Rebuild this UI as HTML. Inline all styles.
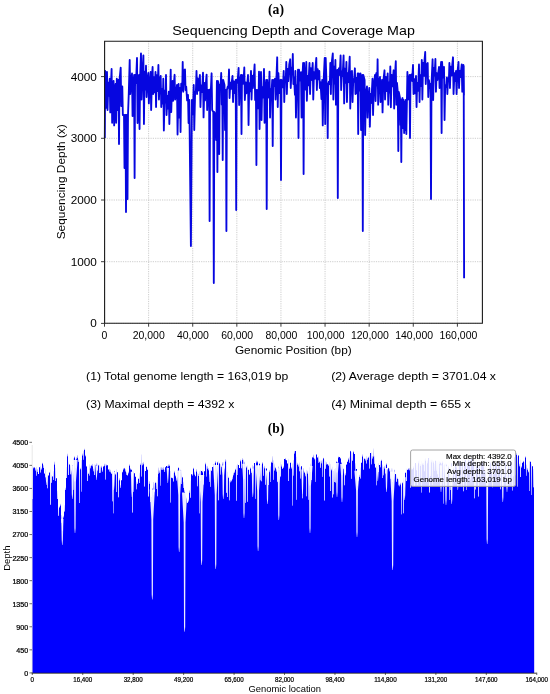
<!DOCTYPE html>
<html><head><meta charset="utf-8"><title>Sequencing depth</title>
<style>html,body{margin:0;padding:0;background:#fff;}svg{display:block;font-family:"Liberation Sans",sans-serif;will-change:transform;}</style>
</head><body>
<svg width="550" height="694" viewBox="0 0 550 694">
<defs><linearGradient id="fg" x1="0" y1="0" x2="0" y2="1"><stop offset="0" stop-color="#0000ff" stop-opacity="0.25"/><stop offset="1" stop-color="#0000ff" stop-opacity="0.9"/></linearGradient></defs>
<rect width="550" height="694" fill="#fff"/>
<text x="276.00" y="13.60" font-family="Liberation Serif" font-size="14" font-weight="bold" text-anchor="middle" fill="#000" textLength="16.00" lengthAdjust="spacingAndGlyphs" >(a)</text>
<text x="293.60" y="35.30" font-family="Liberation Sans" font-size="12.9" font-weight="normal" text-anchor="middle" fill="#000" textLength="242.50" lengthAdjust="spacingAndGlyphs" >Sequencing Depth and Coverage Map</text>
<line x1="104.50" y1="41.0" x2="104.50" y2="323.2" stroke="#c0c0c0" stroke-width="0.8" stroke-dasharray="1.2,1.1"/>
<line x1="148.61" y1="41.0" x2="148.61" y2="323.2" stroke="#c0c0c0" stroke-width="0.8" stroke-dasharray="1.2,1.1"/>
<line x1="192.72" y1="41.0" x2="192.72" y2="323.2" stroke="#c0c0c0" stroke-width="0.8" stroke-dasharray="1.2,1.1"/>
<line x1="236.84" y1="41.0" x2="236.84" y2="323.2" stroke="#c0c0c0" stroke-width="0.8" stroke-dasharray="1.2,1.1"/>
<line x1="280.95" y1="41.0" x2="280.95" y2="323.2" stroke="#c0c0c0" stroke-width="0.8" stroke-dasharray="1.2,1.1"/>
<line x1="325.06" y1="41.0" x2="325.06" y2="323.2" stroke="#c0c0c0" stroke-width="0.8" stroke-dasharray="1.2,1.1"/>
<line x1="369.17" y1="41.0" x2="369.17" y2="323.2" stroke="#c0c0c0" stroke-width="0.8" stroke-dasharray="1.2,1.1"/>
<line x1="413.28" y1="41.0" x2="413.28" y2="323.2" stroke="#c0c0c0" stroke-width="0.8" stroke-dasharray="1.2,1.1"/>
<line x1="457.40" y1="41.0" x2="457.40" y2="323.2" stroke="#c0c0c0" stroke-width="0.8" stroke-dasharray="1.2,1.1"/>
<line x1="104.5" y1="323.40" x2="482.3" y2="323.40" stroke="#c0c0c0" stroke-width="0.8" stroke-dasharray="1.2,1.1"/>
<line x1="104.5" y1="261.70" x2="482.3" y2="261.70" stroke="#c0c0c0" stroke-width="0.8" stroke-dasharray="1.2,1.1"/>
<line x1="104.5" y1="200.00" x2="482.3" y2="200.00" stroke="#c0c0c0" stroke-width="0.8" stroke-dasharray="1.2,1.1"/>
<line x1="104.5" y1="138.30" x2="482.3" y2="138.30" stroke="#c0c0c0" stroke-width="0.8" stroke-dasharray="1.2,1.1"/>
<line x1="104.5" y1="76.60" x2="482.3" y2="76.60" stroke="#c0c0c0" stroke-width="0.8" stroke-dasharray="1.2,1.1"/>
<polyline points="104.80,138.00 105.20,71.00 105.75,108.00 107.00,72.00 107.55,110.00 108.31,82.75 109.08,95.93 109.70,78.70 110.25,112.40 110.87,86.60 111.60,69.00 112.15,122.80 113.00,84.11 113.60,81.00 114.15,125.40 114.82,91.71 115.60,84.00 116.15,122.80 116.80,78.70 117.35,110.00 118.50,80.00 119.00,144.00 119.50,80.00 120.70,67.70 121.25,106.00 122.30,86.50 122.85,115.00 124.00,115.00 124.50,168.00 125.00,115.00 125.50,115.00 126.00,212.00 126.50,115.00 127.00,115.00 127.50,199.00 128.00,115.00 128.79,92.96 129.70,60.00 130.25,94.00 130.99,81.57 132.00,73.50 132.55,116.00 133.20,87.72 134.10,75.00 134.60,178.00 135.10,75.00 136.01,82.96 137.00,58.00 137.55,123.00 138.37,85.29 139.00,75.00 139.55,129.00 140.17,76.49 141.00,53.40 141.55,99.50 142.33,74.28 143.40,55.40 143.95,124.00 144.56,71.80 145.44,89.64 146.00,65.70 146.55,97.00 147.41,79.98 148.30,73.00 148.85,103.40 149.73,83.83 150.60,72.00 151.15,110.00 151.99,76.42 152.60,67.00 153.15,94.00 154.03,77.23 154.53,92.40 155.50,72.00 156.05,107.00 156.72,75.26 157.53,91.01 158.40,65.00 158.95,99.50 159.64,81.19 160.70,76.00 161.25,107.00 161.97,88.82 162.78,103.66 163.30,78.70 163.85,130.60 164.72,90.59 165.48,102.49 166.00,75.00 166.55,115.00 167.45,96.02 167.95,108.46 168.80,91.70 169.35,124.00 170.24,90.90 170.70,69.60 171.25,112.00 172.02,87.53 172.60,81.00 173.15,100.80 173.81,84.52 174.60,74.80 175.15,99.50 175.92,93.97 177.00,85.00 177.55,134.50 178.60,84.00 179.15,117.60 180.00,88.00 180.55,132.00 181.17,83.66 182.20,90.22 182.70,61.90 183.25,91.70 184.09,70.42 185.00,69.50 185.55,90.00 186.20,86.55 187.13,100.34 188.00,95.00 188.55,123.00 189.16,107.30 189.30,100.00 190.90,246.00 191.90,100.00 192.06,103.69 192.90,114.23 193.70,85.00 194.25,130.00 195.14,91.38 195.90,91.40 196.50,71.00 197.05,94.00 197.67,78.54 198.41,90.47 199.27,80.36 199.90,75.00 200.45,107.00 201.10,85.33 202.06,92.09 203.00,72.70 203.55,117.40 204.44,82.83 205.01,100.35 205.81,84.11 206.60,74.60 207.15,110.00 207.93,90.21 209.10,90.00 209.60,221.00 210.10,90.00 210.94,88.09 211.60,73.30 212.15,110.00 213.30,112.00 213.80,283.00 214.30,112.00 215.60,115.00 216.15,140.00 216.90,81.00 217.40,172.00 217.90,81.00 218.70,85.00 219.20,154.00 219.70,85.00 220.50,87.71 221.20,73.00 221.75,104.50 222.20,80.00 222.70,160.00 223.20,80.00 224.50,85.00 225.05,130.00 225.90,90.00 226.40,231.00 226.90,90.00 227.77,86.52 228.39,87.87 229.00,69.50 229.55,98.00 230.31,82.79 230.90,89.18 231.82,81.43 232.50,76.00 233.05,102.00 233.83,81.30 234.42,93.18 235.70,80.00 236.20,210.00 236.70,80.00 237.49,82.95 238.60,68.00 239.15,105.00 239.86,81.61 241.00,75.00 241.50,134.00 242.00,75.00 242.87,81.26 243.42,83.70 244.30,67.50 244.85,100.00 245.74,82.46 246.34,93.29 247.05,86.81 248.00,75.00 248.55,125.00 249.24,83.07 250.08,91.41 251.00,71.00 251.55,99.50 252.26,75.64 252.91,88.19 253.87,75.87 254.60,64.50 255.15,100.00 255.90,90.00 256.40,165.00 256.90,90.00 257.62,90.12 258.37,108.33 259.00,71.60 259.55,129.00 260.28,81.96 261.00,72.00 261.55,120.00 262.18,87.09 263.00,97.52 264.00,69.00 264.55,122.80 265.28,91.23 266.20,80.00 266.70,209.00 267.20,80.00 267.90,91.71 268.80,97.59 269.50,71.60 270.05,117.60 270.79,89.46 271.44,94.61 272.20,80.00 272.70,146.00 273.20,80.00 273.91,86.09 275.00,78.70 275.55,99.50 276.40,79.38 277.20,57.30 277.75,107.00 278.43,73.11 279.29,93.08 280.50,80.00 281.00,180.00 281.50,80.00 282.25,85.38 282.99,87.37 283.70,71.00 284.25,102.00 284.93,77.44 285.73,80.92 286.30,61.90 286.85,94.00 287.57,68.93 288.25,81.15 289.23,64.52 290.20,59.30 290.75,88.00 291.65,67.51 292.39,71.73 292.80,54.00 293.35,84.00 294.02,77.12 294.95,94.82 295.40,71.00 295.95,117.60 296.71,85.31 297.40,94.90 298.00,69.60 298.50,138.00 299.00,69.60 299.67,80.60 301.00,72.20 301.55,117.60 302.24,81.21 303.10,63.00 303.60,174.00 304.10,63.00 304.76,77.52 305.71,89.65 306.30,61.90 306.85,100.80 307.72,75.94 308.37,85.44 309.50,63.00 310.05,94.00 310.87,68.09 311.49,80.02 312.70,63.00 313.25,99.50 314.01,72.21 314.88,78.94 315.45,69.11 316.30,58.00 316.85,90.00 317.71,69.07 318.43,79.27 319.30,71.00 319.85,88.00 320.51,82.11 321.45,99.00 322.20,80.00 322.75,125.40 323.59,81.06 324.70,58.00 325.20,124.00 325.70,58.00 326.59,86.80 327.20,84.00 327.70,138.00 328.20,84.00 328.85,81.69 329.86,84.21 330.30,63.00 330.85,94.00 331.53,64.32 332.80,53.40 333.35,99.50 334.11,66.56 334.84,83.61 335.40,60.00 335.95,104.70 336.55,77.56 337.30,70.00 337.80,198.00 338.30,70.00 338.99,68.25 339.72,75.02 340.60,55.40 341.15,90.00 342.01,71.31 342.65,76.03 343.60,55.40 344.15,103.40 344.84,68.60 345.69,82.90 346.40,62.00 346.95,102.00 347.66,73.16 348.40,82.27 349.70,56.70 350.25,108.50 351.02,72.03 352.00,71.00 352.55,102.00 353.26,79.21 353.95,81.90 354.90,68.30 355.45,94.00 356.23,77.83 356.91,93.26 357.70,73.50 358.20,134.00 358.70,73.50 359.54,90.55 360.50,73.50 361.05,130.00 362.30,75.00 362.80,231.00 363.30,75.00 364.60,80.00 365.15,135.00 365.86,94.37 367.00,86.50 367.55,117.60 368.36,97.05 369.30,88.00 369.85,126.70 370.66,93.85 371.27,103.05 372.50,78.70 373.05,115.00 373.86,85.56 375.00,75.00 375.55,101.00 376.28,73.14 377.16,85.60 377.60,59.30 378.15,104.70 378.86,82.08 380.00,77.00 380.55,102.00 381.39,90.11 382.00,80.00 382.55,112.40 383.29,81.58 384.50,70.30 385.05,99.50 385.89,77.03 386.67,91.11 387.70,73.50 388.25,104.70 389.05,82.50 389.77,92.51 390.30,66.40 390.85,107.30 391.63,74.94 392.24,86.52 393.60,70.30 394.15,108.50 394.76,79.12 395.80,61.20 396.35,104.70 396.98,82.88 397.80,92.00 398.30,151.00 398.80,92.00 400.00,98.00 400.55,125.00 400.80,100.00 401.30,162.00 401.80,100.00 402.50,98.00 403.05,128.00 403.60,100.00 404.15,133.00 404.70,102.00 405.25,130.00 405.80,100.00 406.35,134.00 407.40,72.00 407.95,99.50 408.60,82.61 409.50,75.00 410.00,138.00 410.50,75.00 411.40,74.55 412.15,80.99 413.00,65.00 413.55,94.00 414.40,79.28 415.07,93.41 416.00,76.00 416.55,107.00 417.16,82.84 418.05,90.89 419.00,64.50 419.55,102.00 420.18,75.05 421.18,86.04 421.80,60.00 422.35,99.50 423.05,63.00 423.95,75.85 424.50,60.43 425.20,52.00 425.75,84.00 426.53,64.74 427.70,63.00 428.25,97.00 428.97,80.25 429.72,88.07 430.50,84.00 431.00,199.00 431.50,84.00 432.60,59.30 433.15,100.00 433.88,67.95 434.65,75.48 435.40,59.00 435.95,91.70 436.67,73.09 437.35,80.14 438.28,72.84 439.00,67.00 439.55,88.00 440.31,74.53 441.10,62.00 441.60,133.00 442.10,62.00 442.94,77.70 444.00,67.00 444.55,120.00 445.19,85.34 446.12,87.10 446.80,77.40 447.35,94.00 448.11,78.09 448.92,79.07 449.40,63.00 449.95,88.00 450.63,66.69 451.48,75.58 452.12,66.37 453.00,57.30 453.55,94.00 454.44,73.17 455.11,80.99 456.00,71.00 456.55,94.00 457.41,72.54 458.50,62.00 459.05,88.00 459.73,70.86 460.41,77.10 461.70,64.50 462.25,91.70 463.40,65.00 463.95,95.00 463.70,66.00 464.10,278.30" fill="none" stroke="#0606e0" stroke-width="1.85" stroke-linejoin="round"/>
<path d="M104.6,41.3 H482.4 V323.3 H104.6 Z" fill="none" stroke="#1a1a1a" stroke-width="1.1"/>
<line x1="104.50" y1="323.2" x2="104.50" y2="326.7" stroke="#262626" stroke-width="0.9"/>
<text x="104.50" y="338.70" font-family="Liberation Sans" font-size="10.2" font-weight="normal" text-anchor="middle" fill="#000" textLength="5.82" lengthAdjust="spacingAndGlyphs" >0</text>
<line x1="148.61" y1="323.2" x2="148.61" y2="326.7" stroke="#262626" stroke-width="0.9"/>
<text x="148.73" y="338.70" font-family="Liberation Sans" font-size="10.2" font-weight="normal" text-anchor="middle" fill="#000" textLength="32.02" lengthAdjust="spacingAndGlyphs" >20,000</text>
<line x1="192.72" y1="323.2" x2="192.72" y2="326.7" stroke="#262626" stroke-width="0.9"/>
<text x="192.96" y="338.70" font-family="Liberation Sans" font-size="10.2" font-weight="normal" text-anchor="middle" fill="#000" textLength="32.02" lengthAdjust="spacingAndGlyphs" >40,000</text>
<line x1="236.84" y1="323.2" x2="236.84" y2="326.7" stroke="#262626" stroke-width="0.9"/>
<text x="237.20" y="338.70" font-family="Liberation Sans" font-size="10.2" font-weight="normal" text-anchor="middle" fill="#000" textLength="32.02" lengthAdjust="spacingAndGlyphs" >60,000</text>
<line x1="280.95" y1="323.2" x2="280.95" y2="326.7" stroke="#262626" stroke-width="0.9"/>
<text x="281.43" y="338.70" font-family="Liberation Sans" font-size="10.2" font-weight="normal" text-anchor="middle" fill="#000" textLength="32.02" lengthAdjust="spacingAndGlyphs" >80,000</text>
<line x1="325.06" y1="323.2" x2="325.06" y2="326.7" stroke="#262626" stroke-width="0.9"/>
<text x="325.66" y="338.70" font-family="Liberation Sans" font-size="10.2" font-weight="normal" text-anchor="middle" fill="#000" textLength="37.84" lengthAdjust="spacingAndGlyphs" >100,000</text>
<line x1="369.17" y1="323.2" x2="369.17" y2="326.7" stroke="#262626" stroke-width="0.9"/>
<text x="369.89" y="338.70" font-family="Liberation Sans" font-size="10.2" font-weight="normal" text-anchor="middle" fill="#000" textLength="37.84" lengthAdjust="spacingAndGlyphs" >120,000</text>
<line x1="413.28" y1="323.2" x2="413.28" y2="326.7" stroke="#262626" stroke-width="0.9"/>
<text x="414.12" y="338.70" font-family="Liberation Sans" font-size="10.2" font-weight="normal" text-anchor="middle" fill="#000" textLength="37.84" lengthAdjust="spacingAndGlyphs" >140,000</text>
<line x1="457.40" y1="323.2" x2="457.40" y2="326.7" stroke="#262626" stroke-width="0.9"/>
<text x="458.36" y="338.70" font-family="Liberation Sans" font-size="10.2" font-weight="normal" text-anchor="middle" fill="#000" textLength="37.84" lengthAdjust="spacingAndGlyphs" >160,000</text>
<line x1="101.0" y1="323.40" x2="104.5" y2="323.40" stroke="#262626" stroke-width="0.9"/>
<text x="96.90" y="327.40" font-family="Liberation Sans" font-size="10.6" font-weight="normal" text-anchor="end" fill="#000" textLength="6.55" lengthAdjust="spacingAndGlyphs" >0</text>
<line x1="101.0" y1="261.70" x2="104.5" y2="261.70" stroke="#262626" stroke-width="0.9"/>
<text x="96.90" y="265.70" font-family="Liberation Sans" font-size="10.6" font-weight="normal" text-anchor="end" fill="#000" textLength="26.21" lengthAdjust="spacingAndGlyphs" >1000</text>
<line x1="101.0" y1="200.00" x2="104.5" y2="200.00" stroke="#262626" stroke-width="0.9"/>
<text x="96.90" y="204.00" font-family="Liberation Sans" font-size="10.6" font-weight="normal" text-anchor="end" fill="#000" textLength="26.21" lengthAdjust="spacingAndGlyphs" >2000</text>
<line x1="101.0" y1="138.30" x2="104.5" y2="138.30" stroke="#262626" stroke-width="0.9"/>
<text x="96.90" y="142.30" font-family="Liberation Sans" font-size="10.6" font-weight="normal" text-anchor="end" fill="#000" textLength="26.21" lengthAdjust="spacingAndGlyphs" >3000</text>
<line x1="101.0" y1="76.60" x2="104.5" y2="76.60" stroke="#262626" stroke-width="0.9"/>
<text x="96.90" y="80.60" font-family="Liberation Sans" font-size="10.6" font-weight="normal" text-anchor="end" fill="#000" textLength="26.21" lengthAdjust="spacingAndGlyphs" >4000</text>
<text x="293.30" y="353.60" font-family="Liberation Sans" font-size="10.6" font-weight="normal" text-anchor="middle" fill="#000" textLength="116.70" lengthAdjust="spacingAndGlyphs" >Genomic Position (bp)</text>
<g transform="translate(64.6,181.8) rotate(-90)"><text x="0.00" y="0.00" font-family="Liberation Sans" font-size="10.6" font-weight="normal" text-anchor="middle" fill="#000" textLength="115.10" lengthAdjust="spacingAndGlyphs" >Sequencing Depth (x)</text></g>
<text x="86.10" y="379.60" font-family="Liberation Sans" font-size="10.6" font-weight="normal" text-anchor="start" fill="#000" textLength="202.20" lengthAdjust="spacingAndGlyphs" >(1) Total genome length = 163,019 bp</text>
<text x="331.20" y="379.60" font-family="Liberation Sans" font-size="10.6" font-weight="normal" text-anchor="start" fill="#000" textLength="164.80" lengthAdjust="spacingAndGlyphs" >(2) Average depth = 3701.04 x</text>
<text x="86.10" y="407.80" font-family="Liberation Sans" font-size="10.6" font-weight="normal" text-anchor="start" fill="#000" textLength="148.30" lengthAdjust="spacingAndGlyphs" >(3) Maximal depth = 4392 x</text>
<text x="331.20" y="407.80" font-family="Liberation Sans" font-size="10.6" font-weight="normal" text-anchor="start" fill="#000" textLength="139.60" lengthAdjust="spacingAndGlyphs" >(4) Minimal depth = 655 x</text>
<text x="276.00" y="433.00" font-family="Liberation Serif" font-size="14" font-weight="bold" text-anchor="middle" fill="#000" textLength="16.40" lengthAdjust="spacingAndGlyphs" >(b)</text>
<polygon points="32.30,673.00 32.30,499.00 33.00,499.00 33.00,468.32 34.00,468.32 34.00,467.61 35.00,467.61 35.00,470.46 36.00,470.46 36.00,475.85 37.00,475.85 37.00,471.94 38.00,471.94 38.00,474.05 39.00,474.05 39.00,467.28 40.00,467.28 40.00,472.49 41.00,472.49 41.00,469.62 42.00,469.62 42.00,463.87 43.00,463.87 43.00,467.93 44.00,467.93 44.00,473.83 45.00,473.83 45.00,477.33 46.00,477.33 46.00,476.94 47.00,476.94 47.00,488.28 48.00,488.28 48.00,475.58 49.00,475.58 49.00,472.72 50.00,472.72 50.00,504.84 51.00,504.84 51.00,482.63 52.00,482.63 52.00,476.49 53.00,476.49 53.00,480.12 54.00,480.12 54.00,464.40 55.00,464.40 55.00,481.08 56.00,481.08 56.00,478.28 57.00,478.28 57.00,499.12 58.00,499.12 58.00,515.70 59.00,515.70 59.00,507.57 60.00,507.57 60.00,505.44 61.00,505.44 61.00,522.75 62.00,522.75 62.00,531.09 63.00,531.09 63.00,517.46 64.00,517.46 64.00,511.40 65.00,511.40 65.00,490.00 66.00,490.00 66.00,478.06 67.00,478.06 67.00,456.16 68.00,456.16 68.00,474.99 69.00,474.99 69.00,464.47 70.00,464.47 70.00,474.25 71.00,474.25 71.00,470.21 72.00,470.21 72.00,465.26 73.00,465.26 73.00,489.77 74.00,489.77 74.00,457.60 75.00,457.60 75.00,468.12 76.00,468.12 76.00,459.37 77.00,459.37 77.00,457.67 78.00,457.67 78.00,461.97 79.00,461.97 79.00,503.00 80.00,503.00 80.00,469.37 81.00,469.37 81.00,491.42 82.00,491.42 82.00,455.55 83.00,455.55 83.00,459.83 84.00,459.83 84.00,449.97 85.00,449.97 85.00,456.21 86.00,456.21 86.00,466.39 87.00,466.39 87.00,481.11 88.00,481.11 88.00,473.90 89.00,473.90 89.00,475.53 90.00,475.53 90.00,468.28 91.00,468.28 91.00,465.64 92.00,465.64 92.00,466.30 93.00,466.30 93.00,471.29 94.00,471.29 94.00,475.06 95.00,475.06 95.00,466.05 96.00,466.05 96.00,466.15 97.00,466.15 97.00,470.60 98.00,470.60 98.00,465.55 99.00,465.55 99.00,473.01 100.00,473.01 100.00,472.79 101.00,472.79 101.00,467.52 102.00,467.52 102.00,471.85 103.00,471.85 103.00,466.43 104.00,466.43 104.00,465.72 105.00,465.72 105.00,479.40 106.00,479.40 106.00,465.48 107.00,465.48 107.00,465.31 108.00,465.31 108.00,469.42 109.00,469.42 109.00,471.40 110.00,471.40 110.00,472.28 111.00,472.28 111.00,473.97 112.00,473.97 112.00,501.19 113.00,501.19 113.00,513.32 114.00,513.32 114.00,471.72 115.00,471.72 115.00,474.42 116.00,474.42 116.00,492.09 117.00,492.09 117.00,472.19 118.00,472.19 118.00,497.16 119.00,497.16 119.00,480.21 120.00,480.21 120.00,487.72 121.00,487.72 121.00,480.29 122.00,480.29 122.00,472.17 123.00,472.17 123.00,469.59 124.00,469.59 124.00,468.59 125.00,468.59 125.00,471.62 126.00,471.62 126.00,475.11 127.00,475.11 127.00,475.47 128.00,475.47 128.00,473.17 129.00,473.17 129.00,465.74 130.00,465.74 130.00,469.58 131.00,469.58 131.00,469.82 132.00,469.82 132.00,512.39 133.00,512.39 133.00,491.83 134.00,491.83 134.00,473.36 135.00,473.36 135.00,476.71 136.00,476.71 136.00,489.22 137.00,489.22 137.00,484.11 138.00,484.11 138.00,478.84 139.00,478.84 139.00,482.97 140.00,482.97 140.00,464.89 141.00,464.89 141.00,476.59 142.00,476.59 142.00,465.34 143.00,465.34 143.00,464.33 144.00,464.33 144.00,486.45 145.00,486.45 145.00,470.89 146.00,470.89 146.00,466.95 147.00,466.95 147.00,469.94 148.00,469.94 148.00,496.57 149.00,496.57 149.00,483.64 150.00,483.64 150.00,501.88 151.00,501.88 151.00,496.89 152.00,496.89 152.00,489.57 153.00,489.57 153.00,494.88 154.00,494.88 154.00,491.85 155.00,491.85 155.00,483.09 156.00,483.09 156.00,488.93 157.00,488.93 157.00,496.33 158.00,496.33 158.00,473.87 159.00,473.87 159.00,472.76 160.00,472.76 160.00,485.45 161.00,485.45 161.00,469.69 162.00,469.69 162.00,470.05 163.00,470.05 163.00,469.61 164.00,469.61 164.00,471.89 165.00,471.89 165.00,467.23 166.00,467.23 166.00,466.06 167.00,466.06 167.00,467.45 168.00,467.45 168.00,466.17 169.00,466.17 169.00,466.07 170.00,466.07 170.00,502.62 171.00,502.62 171.00,477.80 172.00,477.80 172.00,478.33 173.00,478.33 173.00,481.50 174.00,481.50 174.00,472.41 175.00,472.41 175.00,476.26 176.00,476.26 176.00,480.39 177.00,480.39 177.00,471.81 178.00,471.81 178.00,467.80 179.00,467.80 179.00,486.42 180.00,486.42 180.00,471.20 181.00,471.20 181.00,483.92 182.00,483.92 182.00,477.62 183.00,477.62 183.00,488.03 184.00,488.03 184.00,491.97 185.00,491.97 185.00,495.52 186.00,495.52 186.00,498.14 187.00,498.14 187.00,503.07 188.00,503.07 188.00,501.50 189.00,501.50 189.00,492.65 190.00,492.65 190.00,497.82 191.00,497.82 191.00,474.35 192.00,474.35 192.00,475.47 193.00,475.47 193.00,468.76 194.00,468.76 194.00,474.44 195.00,474.44 195.00,476.13 196.00,476.13 196.00,471.40 197.00,471.40 197.00,486.31 198.00,486.31 198.00,475.90 199.00,475.90 199.00,513.21 200.00,513.21 200.00,480.88 201.00,480.88 201.00,470.93 202.00,470.93 202.00,472.26 203.00,472.26 203.00,484.45 204.00,484.45 204.00,471.24 205.00,471.24 205.00,464.31 206.00,464.31 206.00,476.51 207.00,476.51 207.00,468.80 208.00,468.80 208.00,470.27 209.00,470.27 209.00,481.63 210.00,481.63 210.00,486.74 211.00,486.74 211.00,470.72 212.00,470.72 212.00,466.94 213.00,466.94 213.00,466.21 214.00,466.21 214.00,479.48 215.00,479.48 215.00,462.75 216.00,462.75 216.00,468.50 217.00,468.50 217.00,462.42 218.00,462.42 218.00,500.34 219.00,500.34 219.00,463.62 220.00,463.62 220.00,474.50 221.00,474.50 221.00,467.09 222.00,467.09 222.00,464.75 223.00,464.75 223.00,479.31 224.00,479.31 224.00,468.54 225.00,468.54 225.00,461.42 226.00,461.42 226.00,492.64 227.00,492.64 227.00,497.07 228.00,497.07 228.00,478.11 229.00,478.11 229.00,500.24 230.00,500.24 230.00,482.22 231.00,482.22 231.00,481.19 232.00,481.19 232.00,479.34 233.00,479.34 233.00,475.31 234.00,475.31 234.00,472.78 235.00,472.78 235.00,469.74 236.00,469.74 236.00,500.83 237.00,500.83 237.00,474.89 238.00,474.89 238.00,465.01 239.00,465.01 239.00,468.07 240.00,468.07 240.00,461.19 241.00,461.19 241.00,468.17 242.00,468.17 242.00,459.89 243.00,459.89 243.00,467.42 244.00,467.42 244.00,464.00 245.00,464.00 245.00,502.63 246.00,502.63 246.00,467.55 247.00,467.55 247.00,501.75 248.00,501.75 248.00,470.02 249.00,470.02 249.00,474.81 250.00,474.81 250.00,468.39 251.00,468.39 251.00,472.99 252.00,472.99 252.00,474.43 253.00,474.43 253.00,468.98 254.00,468.98 254.00,463.10 255.00,463.10 255.00,498.75 256.00,498.75 256.00,462.54 257.00,462.54 257.00,462.17 258.00,462.17 258.00,469.60 259.00,469.60 259.00,463.98 260.00,463.98 260.00,480.17 261.00,480.17 261.00,481.21 262.00,481.21 262.00,463.43 263.00,463.43 263.00,475.75 264.00,475.75 264.00,468.22 265.00,468.22 265.00,484.79 266.00,484.79 266.00,468.48 267.00,468.48 267.00,473.06 268.00,473.06 268.00,484.93 269.00,484.93 269.00,471.86 270.00,471.86 270.00,481.91 271.00,481.91 271.00,462.38 272.00,462.38 272.00,462.73 273.00,462.73 273.00,479.69 274.00,479.69 274.00,470.50 275.00,470.50 275.00,468.29 276.00,468.29 276.00,471.38 277.00,471.38 277.00,481.71 278.00,481.71 278.00,469.25 279.00,469.25 279.00,469.85 280.00,469.85 280.00,476.54 281.00,476.54 281.00,466.51 282.00,466.51 282.00,468.75 283.00,468.75 283.00,467.75 284.00,467.75 284.00,459.11 285.00,459.11 285.00,459.47 286.00,459.47 286.00,460.15 287.00,460.15 287.00,463.39 288.00,463.39 288.00,480.91 289.00,480.91 289.00,468.64 290.00,468.64 290.00,462.78 291.00,462.78 291.00,468.51 292.00,468.51 292.00,505.51 293.00,505.51 293.00,475.48 294.00,475.48 294.00,453.43 295.00,453.43 295.00,451.03 296.00,451.03 296.00,499.81 297.00,499.81 297.00,464.87 298.00,464.87 298.00,466.58 299.00,466.58 299.00,471.16 300.00,471.16 300.00,478.57 301.00,478.57 301.00,466.28 302.00,466.28 302.00,498.30 303.00,498.30 303.00,470.26 304.00,470.26 304.00,472.81 305.00,472.81 305.00,476.31 306.00,476.31 306.00,496.36 307.00,496.36 307.00,473.39 308.00,473.39 308.00,499.87 309.00,499.87 309.00,467.60 310.00,467.60 310.00,471.88 311.00,471.88 311.00,479.90 312.00,479.90 312.00,457.52 313.00,457.52 313.00,457.38 314.00,457.38 314.00,459.26 315.00,459.26 315.00,481.73 316.00,481.73 316.00,454.56 317.00,454.56 317.00,457.60 318.00,457.60 318.00,463.02 319.00,463.02 319.00,462.28 320.00,462.28 320.00,467.72 321.00,467.72 321.00,463.25 322.00,463.25 322.00,476.71 323.00,476.71 323.00,458.60 324.00,458.60 324.00,500.50 325.00,500.50 325.00,468.69 326.00,468.69 326.00,464.61 327.00,464.61 327.00,464.33 328.00,464.33 328.00,465.71 329.00,465.71 329.00,476.45 330.00,476.45 330.00,490.91 331.00,490.91 331.00,470.28 332.00,470.28 332.00,497.45 333.00,497.45 333.00,494.17 334.00,494.17 334.00,482.00 335.00,482.00 335.00,482.61 336.00,482.61 336.00,461.79 337.00,461.79 337.00,462.56 338.00,462.56 338.00,457.48 339.00,457.48 339.00,457.04 340.00,457.04 340.00,458.61 341.00,458.61 341.00,463.43 342.00,463.43 342.00,466.50 343.00,466.50 343.00,468.71 344.00,468.71 344.00,485.36 345.00,485.36 345.00,475.28 346.00,475.28 346.00,464.82 347.00,464.82 347.00,461.67 348.00,461.67 348.00,459.40 349.00,459.40 349.00,462.72 350.00,462.72 350.00,451.33 351.00,451.33 351.00,478.74 352.00,478.74 352.00,460.86 353.00,460.86 353.00,452.28 354.00,452.28 354.00,453.92 355.00,453.92 355.00,470.77 356.00,470.77 356.00,469.00 357.00,469.00 357.00,485.87 358.00,485.87 358.00,480.59 359.00,480.59 359.00,476.96 360.00,476.96 360.00,478.45 361.00,478.45 361.00,462.87 362.00,462.87 362.00,456.50 363.00,456.50 363.00,469.82 364.00,469.82 364.00,458.98 365.00,458.98 365.00,460.41 366.00,460.41 366.00,463.47 367.00,463.47 367.00,459.63 368.00,459.63 368.00,457.72 369.00,457.72 369.00,468.38 370.00,468.38 370.00,453.03 371.00,453.03 371.00,464.20 372.00,464.20 372.00,458.54 373.00,458.54 373.00,456.44 374.00,456.44 374.00,463.63 375.00,463.63 375.00,467.87 376.00,467.87 376.00,485.37 377.00,485.37 377.00,467.21 378.00,467.21 378.00,472.00 379.00,472.00 379.00,465.09 380.00,465.09 380.00,467.26 381.00,467.26 381.00,460.71 382.00,460.71 382.00,477.89 383.00,477.89 383.00,475.20 384.00,475.20 384.00,468.44 385.00,468.44 385.00,473.56 386.00,473.56 386.00,464.87 387.00,464.87 387.00,469.56 388.00,469.56 388.00,468.34 389.00,468.34 389.00,471.19 390.00,471.19 390.00,478.85 391.00,478.85 391.00,479.28 392.00,479.28 392.00,482.11 393.00,482.11 393.00,479.43 394.00,479.43 394.00,471.66 395.00,471.66 395.00,473.94 396.00,473.94 396.00,481.76 397.00,481.76 397.00,478.88 398.00,478.88 398.00,485.36 399.00,485.36 399.00,486.21 400.00,486.21 400.00,484.40 401.00,484.40 401.00,514.15 402.00,514.15 402.00,483.32 403.00,483.32 403.00,513.20 404.00,513.20 404.00,487.62 405.00,487.62 405.00,472.87 406.00,472.87 406.00,481.03 407.00,481.03 407.00,470.02 408.00,470.02 408.00,469.60 409.00,469.60 409.00,470.36 410.00,470.36 410.00,487.87 411.00,487.87 411.00,469.47 412.00,469.47 412.00,469.23 413.00,469.23 413.00,467.64 414.00,467.64 414.00,485.78 415.00,485.78 415.00,463.08 416.00,463.08 416.00,470.17 417.00,470.17 417.00,484.88 418.00,484.88 418.00,463.35 419.00,463.35 419.00,481.74 420.00,481.74 420.00,466.06 421.00,466.06 421.00,492.58 422.00,492.58 422.00,464.59 423.00,464.59 423.00,465.06 424.00,465.06 424.00,471.16 425.00,471.16 425.00,460.82 426.00,460.82 426.00,482.03 427.00,482.03 427.00,463.24 428.00,463.24 428.00,458.00 429.00,458.00 429.00,492.46 430.00,492.46 430.00,475.94 431.00,475.94 431.00,462.13 432.00,462.13 432.00,484.65 433.00,484.65 433.00,462.41 434.00,462.41 434.00,470.70 435.00,470.70 435.00,460.77 436.00,460.77 436.00,470.47 437.00,470.47 437.00,474.22 438.00,474.22 438.00,476.95 439.00,476.95 439.00,464.12 440.00,464.12 440.00,462.97 441.00,462.97 441.00,464.39 442.00,464.39 442.00,462.87 443.00,462.87 443.00,503.53 444.00,503.53 444.00,466.18 445.00,466.18 445.00,469.13 446.00,469.13 446.00,464.74 447.00,464.74 447.00,479.16 448.00,479.16 448.00,467.77 449.00,467.77 449.00,499.63 450.00,499.63 450.00,490.04 451.00,490.04 451.00,463.37 452.00,463.37 452.00,477.03 453.00,477.03 453.00,468.54 454.00,468.54 454.00,480.77 455.00,480.77 455.00,463.33 456.00,463.33 456.00,467.29 457.00,467.29 457.00,468.99 458.00,468.99 458.00,460.73 459.00,460.73 459.00,464.26 460.00,464.26 460.00,461.30 461.00,461.30 461.00,486.97 462.00,486.97 462.00,462.16 463.00,462.16 463.00,491.22 464.00,491.22 464.00,462.35 465.00,462.35 465.00,460.07 466.00,460.07 466.00,490.09 467.00,490.09 467.00,463.60 468.00,463.60 468.00,460.17 469.00,460.17 469.00,461.53 470.00,461.53 470.00,479.55 471.00,479.55 471.00,458.87 472.00,458.87 472.00,464.45 473.00,464.45 473.00,461.74 474.00,461.74 474.00,498.22 475.00,498.22 475.00,489.62 476.00,489.62 476.00,466.99 477.00,466.99 477.00,465.84 478.00,465.84 478.00,496.42 479.00,496.42 479.00,466.16 480.00,466.16 480.00,478.16 481.00,478.16 481.00,464.06 482.00,464.06 482.00,462.76 483.00,462.76 483.00,466.41 484.00,466.41 484.00,471.15 485.00,471.15 485.00,462.82 486.00,462.82 486.00,477.72 487.00,477.72 487.00,477.98 488.00,477.98 488.00,464.03 489.00,464.03 489.00,467.99 490.00,467.99 490.00,463.32 491.00,463.32 491.00,471.72 492.00,471.72 492.00,487.37 493.00,487.37 493.00,461.15 494.00,461.15 494.00,474.12 495.00,474.12 495.00,464.98 496.00,464.98 496.00,462.68 497.00,462.68 497.00,477.71 498.00,477.71 498.00,461.55 499.00,461.55 499.00,466.25 500.00,466.25 500.00,489.31 501.00,489.31 501.00,459.99 502.00,459.99 502.00,462.47 503.00,462.47 503.00,463.90 504.00,463.90 504.00,475.99 505.00,475.99 505.00,462.84 506.00,462.84 506.00,462.13 507.00,462.13 507.00,475.22 508.00,475.22 508.00,464.68 509.00,464.68 509.00,481.63 510.00,481.63 510.00,462.09 511.00,462.09 511.00,463.64 512.00,463.64 512.00,490.62 513.00,490.62 513.00,476.17 514.00,476.17 514.00,457.58 515.00,457.58 515.00,475.37 516.00,475.37 516.00,454.96 517.00,454.96 517.00,486.41 518.00,486.41 518.00,455.39 519.00,455.39 519.00,466.21 520.00,466.21 520.00,477.11 521.00,477.11 521.00,467.55 522.00,467.55 522.00,462.76 523.00,462.76 523.00,461.70 524.00,461.70 524.00,468.94 525.00,468.94 525.00,457.54 526.00,457.54 526.00,475.82 527.00,475.82 527.00,469.71 528.00,469.71 528.00,472.29 529.00,472.29 529.00,491.12 530.00,491.12 530.00,461.68 531.00,461.68 531.00,495.12 532.00,495.12 532.00,466.31 533.00,466.31 533.00,487.16 534.00,487.16 534.20,673.00" fill="#0000ff"/>
<g fill="url(#fg)">
<rect x="32.30" y="466.00" width="0.70" height="33.00" fill-opacity="0.35"/>
<rect x="33.00" y="466.92" width="1.00" height="1.40" fill-opacity="0.50"/>
<rect x="35.00" y="468.08" width="1.00" height="2.38" fill-opacity="0.50"/>
<rect x="36.00" y="466.91" width="1.00" height="8.94" fill-opacity="0.44"/>
<rect x="37.00" y="469.04" width="1.00" height="2.89" fill-opacity="0.50"/>
<rect x="40.00" y="465.93" width="1.00" height="6.56" fill-opacity="0.35"/>
<rect x="41.00" y="467.70" width="1.00" height="1.92" fill-opacity="0.50"/>
<rect x="42.00" y="462.50" width="1.00" height="1.37" fill-opacity="0.50"/>
<rect x="43.00" y="464.95" width="1.00" height="2.99" fill-opacity="0.50"/>
<rect x="44.00" y="472.88" width="1.00" height="0.95" fill-opacity="0.50"/>
<rect x="45.00" y="469.18" width="1.00" height="8.15" fill-opacity="0.34"/>
<rect x="46.00" y="474.07" width="1.00" height="2.87" fill-opacity="0.50"/>
<rect x="47.00" y="474.65" width="1.00" height="13.64" fill-opacity="0.36"/>
<rect x="49.00" y="471.91" width="1.00" height="0.81" fill-opacity="0.50"/>
<rect x="50.00" y="469.61" width="1.00" height="35.23" fill-opacity="0.24"/>
<rect x="51.00" y="474.72" width="1.00" height="7.91" fill-opacity="0.26"/>
<rect x="53.00" y="471.12" width="1.00" height="9.00" fill-opacity="0.35"/>
<rect x="54.00" y="461.49" width="1.00" height="2.91" fill-opacity="0.50"/>
<rect x="55.00" y="467.62" width="1.00" height="13.46" fill-opacity="0.34"/>
<rect x="57.00" y="490.73" width="1.00" height="8.39" fill-opacity="0.32"/>
<rect x="58.00" y="509.07" width="1.00" height="6.63" fill-opacity="0.29"/>
<rect x="59.00" y="506.21" width="1.00" height="1.36" fill-opacity="0.50"/>
<rect x="60.00" y="503.71" width="1.00" height="1.72" fill-opacity="0.50"/>
<rect x="61.00" y="515.07" width="1.00" height="7.68" fill-opacity="0.49"/>
<rect x="62.00" y="516.75" width="1.00" height="14.34" fill-opacity="0.27"/>
<rect x="63.00" y="515.65" width="1.00" height="1.81" fill-opacity="0.50"/>
<rect x="64.00" y="504.95" width="1.00" height="6.45" fill-opacity="0.28"/>
<rect x="65.00" y="487.53" width="1.00" height="2.47" fill-opacity="0.50"/>
<rect x="66.00" y="467.01" width="1.00" height="11.05" fill-opacity="0.22"/>
<rect x="67.00" y="453.60" width="1.00" height="2.56" fill-opacity="0.50"/>
<rect x="68.00" y="461.50" width="1.00" height="13.48" fill-opacity="0.21"/>
<rect x="70.00" y="465.23" width="1.00" height="9.01" fill-opacity="0.33"/>
<rect x="71.00" y="468.24" width="1.00" height="1.97" fill-opacity="0.50"/>
<rect x="73.00" y="458.25" width="1.00" height="31.52" fill-opacity="0.54"/>
<rect x="74.00" y="456.15" width="1.00" height="1.45" fill-opacity="0.50"/>
<rect x="75.00" y="459.11" width="1.00" height="9.01" fill-opacity="0.39"/>
<rect x="76.00" y="457.16" width="1.00" height="2.21" fill-opacity="0.50"/>
<rect x="77.00" y="454.93" width="1.00" height="2.75" fill-opacity="0.50"/>
<rect x="78.00" y="459.26" width="1.00" height="2.70" fill-opacity="0.50"/>
<rect x="79.00" y="469.70" width="1.00" height="33.30" fill-opacity="0.40"/>
<rect x="80.00" y="467.62" width="1.00" height="1.75" fill-opacity="0.50"/>
<rect x="81.00" y="460.01" width="1.00" height="31.41" fill-opacity="0.51"/>
<rect x="82.00" y="453.35" width="1.00" height="2.21" fill-opacity="0.50"/>
<rect x="83.00" y="451.02" width="1.00" height="8.81" fill-opacity="0.46"/>
<rect x="84.00" y="448.53" width="1.00" height="1.44" fill-opacity="0.50"/>
<rect x="85.00" y="454.72" width="1.00" height="1.49" fill-opacity="0.50"/>
<rect x="86.00" y="465.62" width="1.00" height="0.77" fill-opacity="0.50"/>
<rect x="87.00" y="469.61" width="1.00" height="11.49" fill-opacity="0.26"/>
<rect x="88.00" y="472.58" width="1.00" height="1.33" fill-opacity="0.50"/>
<rect x="89.00" y="464.24" width="1.00" height="11.29" fill-opacity="0.35"/>
<rect x="90.00" y="465.64" width="1.00" height="2.64" fill-opacity="0.50"/>
<rect x="91.00" y="464.69" width="1.00" height="0.95" fill-opacity="0.50"/>
<rect x="92.00" y="463.79" width="1.00" height="2.51" fill-opacity="0.50"/>
<rect x="93.00" y="468.44" width="1.00" height="2.85" fill-opacity="0.50"/>
<rect x="94.00" y="464.10" width="1.00" height="10.96" fill-opacity="0.27"/>
<rect x="95.00" y="464.56" width="1.00" height="1.48" fill-opacity="0.50"/>
<rect x="96.00" y="463.21" width="1.00" height="2.95" fill-opacity="0.50"/>
<rect x="97.00" y="463.50" width="1.00" height="7.10" fill-opacity="0.21"/>
<rect x="98.00" y="464.63" width="1.00" height="0.93" fill-opacity="0.50"/>
<rect x="99.00" y="464.54" width="1.00" height="8.47" fill-opacity="0.21"/>
<rect x="100.00" y="466.52" width="1.00" height="6.26" fill-opacity="0.42"/>
<rect x="101.00" y="465.55" width="1.00" height="1.97" fill-opacity="0.50"/>
<rect x="102.00" y="469.79" width="1.00" height="2.05" fill-opacity="0.50"/>
<rect x="104.00" y="463.58" width="1.00" height="2.14" fill-opacity="0.50"/>
<rect x="105.00" y="463.75" width="1.00" height="15.64" fill-opacity="0.38"/>
<rect x="106.00" y="464.30" width="1.00" height="1.18" fill-opacity="0.50"/>
<rect x="109.00" y="468.67" width="1.00" height="2.73" fill-opacity="0.50"/>
<rect x="110.00" y="469.64" width="1.00" height="2.64" fill-opacity="0.50"/>
<rect x="111.00" y="472.58" width="1.00" height="1.39" fill-opacity="0.50"/>
<rect x="112.00" y="471.56" width="1.00" height="29.63" fill-opacity="0.42"/>
<rect x="113.00" y="472.02" width="1.00" height="41.30" fill-opacity="0.54"/>
<rect x="114.00" y="470.76" width="1.00" height="0.96" fill-opacity="0.50"/>
<rect x="115.00" y="473.37" width="1.00" height="1.05" fill-opacity="0.50"/>
<rect x="116.00" y="469.18" width="1.00" height="22.91" fill-opacity="0.37"/>
<rect x="118.00" y="480.60" width="1.00" height="16.56" fill-opacity="0.25"/>
<rect x="119.00" y="478.04" width="1.00" height="2.17" fill-opacity="0.50"/>
<rect x="120.00" y="484.88" width="1.00" height="2.84" fill-opacity="0.50"/>
<rect x="122.00" y="471.30" width="1.00" height="0.87" fill-opacity="0.50"/>
<rect x="123.00" y="468.02" width="1.00" height="1.57" fill-opacity="0.50"/>
<rect x="124.00" y="467.66" width="1.00" height="0.94" fill-opacity="0.50"/>
<rect x="125.00" y="468.92" width="1.00" height="2.70" fill-opacity="0.50"/>
<rect x="126.00" y="472.21" width="1.00" height="2.91" fill-opacity="0.50"/>
<rect x="127.00" y="474.87" width="1.00" height="0.60" fill-opacity="0.50"/>
<rect x="128.00" y="471.35" width="1.00" height="1.82" fill-opacity="0.50"/>
<rect x="129.00" y="464.19" width="1.00" height="1.55" fill-opacity="0.50"/>
<rect x="130.00" y="467.89" width="1.00" height="1.69" fill-opacity="0.50"/>
<rect x="132.00" y="471.04" width="1.00" height="41.34" fill-opacity="0.29"/>
<rect x="133.00" y="471.68" width="1.00" height="20.15" fill-opacity="0.52"/>
<rect x="136.00" y="481.46" width="1.00" height="7.76" fill-opacity="0.44"/>
<rect x="137.00" y="482.25" width="1.00" height="1.86" fill-opacity="0.50"/>
<rect x="139.00" y="472.78" width="1.00" height="10.19" fill-opacity="0.35"/>
<rect x="140.00" y="463.31" width="1.00" height="1.59" fill-opacity="0.50"/>
<rect x="141.00" y="454.46" width="1.00" height="22.12" fill-opacity="0.39"/>
<rect x="142.00" y="462.77" width="1.00" height="2.57" fill-opacity="0.50"/>
<rect x="143.00" y="461.90" width="1.00" height="2.43" fill-opacity="0.50"/>
<rect x="144.00" y="468.82" width="1.00" height="17.63" fill-opacity="0.28"/>
<rect x="146.00" y="466.18" width="1.00" height="0.78" fill-opacity="0.50"/>
<rect x="147.00" y="468.68" width="1.00" height="1.26" fill-opacity="0.50"/>
<rect x="148.00" y="479.53" width="1.00" height="17.04" fill-opacity="0.21"/>
<rect x="149.00" y="480.91" width="1.00" height="2.73" fill-opacity="0.50"/>
<rect x="150.00" y="491.28" width="1.00" height="10.60" fill-opacity="0.38"/>
<rect x="151.00" y="490.80" width="1.00" height="6.09" fill-opacity="0.21"/>
<rect x="152.00" y="487.86" width="1.00" height="1.71" fill-opacity="0.50"/>
<rect x="153.00" y="482.03" width="1.00" height="12.85" fill-opacity="0.55"/>
<rect x="154.00" y="483.49" width="1.00" height="8.36" fill-opacity="0.36"/>
<rect x="155.00" y="481.69" width="1.00" height="1.40" fill-opacity="0.50"/>
<rect x="156.00" y="482.61" width="1.00" height="6.32" fill-opacity="0.45"/>
<rect x="157.00" y="476.91" width="1.00" height="19.42" fill-opacity="0.34"/>
<rect x="158.00" y="467.56" width="1.00" height="6.32" fill-opacity="0.51"/>
<rect x="159.00" y="470.18" width="1.00" height="2.58" fill-opacity="0.50"/>
<rect x="160.00" y="467.35" width="1.00" height="18.09" fill-opacity="0.54"/>
<rect x="161.00" y="466.96" width="1.00" height="2.73" fill-opacity="0.50"/>
<rect x="162.00" y="467.60" width="1.00" height="2.44" fill-opacity="0.50"/>
<rect x="163.00" y="466.97" width="1.00" height="2.64" fill-opacity="0.50"/>
<rect x="164.00" y="469.59" width="1.00" height="2.30" fill-opacity="0.50"/>
<rect x="167.00" y="465.58" width="1.00" height="1.87" fill-opacity="0.50"/>
<rect x="168.00" y="464.17" width="1.00" height="2.00" fill-opacity="0.50"/>
<rect x="169.00" y="464.36" width="1.00" height="1.71" fill-opacity="0.50"/>
<rect x="170.00" y="470.93" width="1.00" height="31.69" fill-opacity="0.45"/>
<rect x="172.00" y="477.56" width="1.00" height="0.77" fill-opacity="0.50"/>
<rect x="173.00" y="472.56" width="1.00" height="8.94" fill-opacity="0.23"/>
<rect x="174.00" y="470.76" width="1.00" height="1.65" fill-opacity="0.50"/>
<rect x="175.00" y="474.55" width="1.00" height="1.70" fill-opacity="0.50"/>
<rect x="176.00" y="477.97" width="1.00" height="2.43" fill-opacity="0.50"/>
<rect x="177.00" y="469.53" width="1.00" height="2.28" fill-opacity="0.50"/>
<rect x="179.00" y="468.30" width="1.00" height="18.11" fill-opacity="0.22"/>
<rect x="180.00" y="469.62" width="1.00" height="1.58" fill-opacity="0.50"/>
<rect x="181.00" y="470.43" width="1.00" height="13.49" fill-opacity="0.40"/>
<rect x="182.00" y="476.73" width="1.00" height="0.89" fill-opacity="0.50"/>
<rect x="183.00" y="481.76" width="1.00" height="6.27" fill-opacity="0.46"/>
<rect x="184.00" y="489.73" width="1.00" height="2.25" fill-opacity="0.50"/>
<rect x="185.00" y="492.68" width="1.00" height="2.83" fill-opacity="0.50"/>
<rect x="186.00" y="496.85" width="1.00" height="1.29" fill-opacity="0.50"/>
<rect x="187.00" y="502.34" width="1.00" height="0.73" fill-opacity="0.50"/>
<rect x="188.00" y="499.33" width="1.00" height="2.17" fill-opacity="0.50"/>
<rect x="189.00" y="490.20" width="1.00" height="2.45" fill-opacity="0.50"/>
<rect x="190.00" y="480.44" width="1.00" height="17.38" fill-opacity="0.27"/>
<rect x="192.00" y="474.10" width="1.00" height="1.37" fill-opacity="0.50"/>
<rect x="193.00" y="467.50" width="1.00" height="1.26" fill-opacity="0.50"/>
<rect x="194.00" y="471.45" width="1.00" height="2.99" fill-opacity="0.50"/>
<rect x="195.00" y="475.42" width="1.00" height="0.72" fill-opacity="0.50"/>
<rect x="196.00" y="469.05" width="1.00" height="2.35" fill-opacity="0.50"/>
<rect x="197.00" y="472.87" width="1.00" height="13.44" fill-opacity="0.40"/>
<rect x="198.00" y="473.64" width="1.00" height="2.26" fill-opacity="0.50"/>
<rect x="199.00" y="471.33" width="1.00" height="41.89" fill-opacity="0.51"/>
<rect x="200.00" y="470.28" width="1.00" height="10.61" fill-opacity="0.42"/>
<rect x="202.00" y="470.61" width="1.00" height="1.65" fill-opacity="0.50"/>
<rect x="203.00" y="474.42" width="1.00" height="10.03" fill-opacity="0.32"/>
<rect x="205.00" y="462.44" width="1.00" height="1.87" fill-opacity="0.50"/>
<rect x="206.00" y="466.13" width="1.00" height="10.38" fill-opacity="0.48"/>
<rect x="207.00" y="465.83" width="1.00" height="2.97" fill-opacity="0.50"/>
<rect x="208.00" y="468.03" width="1.00" height="2.24" fill-opacity="0.50"/>
<rect x="209.00" y="474.20" width="1.00" height="7.43" fill-opacity="0.51"/>
<rect x="210.00" y="469.80" width="1.00" height="16.94" fill-opacity="0.44"/>
<rect x="213.00" y="464.13" width="1.00" height="2.08" fill-opacity="0.50"/>
<rect x="214.00" y="463.09" width="1.00" height="16.39" fill-opacity="0.33"/>
<rect x="215.00" y="461.04" width="1.00" height="1.71" fill-opacity="0.50"/>
<rect x="216.00" y="465.76" width="1.00" height="2.74" fill-opacity="0.50"/>
<rect x="217.00" y="461.51" width="1.00" height="0.91" fill-opacity="0.50"/>
<rect x="218.00" y="460.89" width="1.00" height="39.45" fill-opacity="0.29"/>
<rect x="219.00" y="462.53" width="1.00" height="1.09" fill-opacity="0.50"/>
<rect x="220.00" y="464.10" width="1.00" height="10.40" fill-opacity="0.48"/>
<rect x="221.00" y="465.41" width="1.00" height="1.69" fill-opacity="0.50"/>
<rect x="222.00" y="462.10" width="1.00" height="2.64" fill-opacity="0.50"/>
<rect x="223.00" y="462.08" width="1.00" height="17.22" fill-opacity="0.40"/>
<rect x="224.00" y="466.12" width="1.00" height="2.41" fill-opacity="0.50"/>
<rect x="225.00" y="459.05" width="1.00" height="2.36" fill-opacity="0.50"/>
<rect x="226.00" y="460.13" width="1.00" height="32.51" fill-opacity="0.23"/>
<rect x="227.00" y="471.71" width="1.00" height="25.36" fill-opacity="0.29"/>
<rect x="228.00" y="476.54" width="1.00" height="1.56" fill-opacity="0.50"/>
<rect x="229.00" y="481.15" width="1.00" height="19.08" fill-opacity="0.44"/>
<rect x="230.00" y="480.06" width="1.00" height="2.16" fill-opacity="0.50"/>
<rect x="231.00" y="479.96" width="1.00" height="1.23" fill-opacity="0.50"/>
<rect x="232.00" y="476.78" width="1.00" height="2.56" fill-opacity="0.50"/>
<rect x="233.00" y="472.64" width="1.00" height="2.67" fill-opacity="0.50"/>
<rect x="234.00" y="471.20" width="1.00" height="1.57" fill-opacity="0.50"/>
<rect x="235.00" y="468.47" width="1.00" height="1.26" fill-opacity="0.50"/>
<rect x="236.00" y="465.44" width="1.00" height="35.38" fill-opacity="0.33"/>
<rect x="237.00" y="463.92" width="1.00" height="10.96" fill-opacity="0.54"/>
<rect x="240.00" y="459.44" width="1.00" height="1.75" fill-opacity="0.50"/>
<rect x="241.00" y="461.37" width="1.00" height="6.80" fill-opacity="0.28"/>
<rect x="242.00" y="458.10" width="1.00" height="1.78" fill-opacity="0.50"/>
<rect x="243.00" y="459.48" width="1.00" height="7.94" fill-opacity="0.47"/>
<rect x="244.00" y="461.55" width="1.00" height="2.45" fill-opacity="0.50"/>
<rect x="245.00" y="464.17" width="1.00" height="38.45" fill-opacity="0.32"/>
<rect x="246.00" y="466.10" width="1.00" height="1.45" fill-opacity="0.50"/>
<rect x="247.00" y="465.38" width="1.00" height="36.37" fill-opacity="0.33"/>
<rect x="248.00" y="469.19" width="1.00" height="0.82" fill-opacity="0.50"/>
<rect x="249.00" y="474.10" width="1.00" height="0.71" fill-opacity="0.50"/>
<rect x="250.00" y="467.27" width="1.00" height="1.11" fill-opacity="0.50"/>
<rect x="251.00" y="471.17" width="1.00" height="1.82" fill-opacity="0.50"/>
<rect x="252.00" y="465.09" width="1.00" height="9.34" fill-opacity="0.50"/>
<rect x="253.00" y="466.00" width="1.00" height="2.98" fill-opacity="0.50"/>
<rect x="255.00" y="464.95" width="1.00" height="33.80" fill-opacity="0.49"/>
<rect x="256.00" y="460.39" width="1.00" height="2.15" fill-opacity="0.50"/>
<rect x="257.00" y="460.76" width="1.00" height="1.41" fill-opacity="0.50"/>
<rect x="258.00" y="467.03" width="1.00" height="2.57" fill-opacity="0.50"/>
<rect x="259.00" y="462.73" width="1.00" height="1.25" fill-opacity="0.50"/>
<rect x="260.00" y="467.29" width="1.00" height="12.89" fill-opacity="0.39"/>
<rect x="261.00" y="464.85" width="1.00" height="16.36" fill-opacity="0.31"/>
<rect x="262.00" y="462.03" width="1.00" height="1.40" fill-opacity="0.50"/>
<rect x="263.00" y="466.84" width="1.00" height="8.91" fill-opacity="0.34"/>
<rect x="264.00" y="465.73" width="1.00" height="2.49" fill-opacity="0.50"/>
<rect x="265.00" y="468.08" width="1.00" height="16.71" fill-opacity="0.28"/>
<rect x="267.00" y="472.44" width="1.00" height="0.62" fill-opacity="0.50"/>
<rect x="268.00" y="470.81" width="1.00" height="14.12" fill-opacity="0.30"/>
<rect x="269.00" y="469.86" width="1.00" height="2.00" fill-opacity="0.50"/>
<rect x="270.00" y="466.28" width="1.00" height="15.64" fill-opacity="0.53"/>
<rect x="271.00" y="461.38" width="1.00" height="0.99" fill-opacity="0.50"/>
<rect x="272.00" y="456.20" width="1.00" height="6.53" fill-opacity="0.44"/>
<rect x="273.00" y="460.22" width="1.00" height="19.47" fill-opacity="0.41"/>
<rect x="274.00" y="463.72" width="1.00" height="6.78" fill-opacity="0.34"/>
<rect x="275.00" y="467.01" width="1.00" height="1.28" fill-opacity="0.50"/>
<rect x="276.00" y="469.08" width="1.00" height="2.30" fill-opacity="0.50"/>
<rect x="277.00" y="470.25" width="1.00" height="11.46" fill-opacity="0.21"/>
<rect x="278.00" y="466.30" width="1.00" height="2.95" fill-opacity="0.50"/>
<rect x="279.00" y="468.03" width="1.00" height="1.83" fill-opacity="0.50"/>
<rect x="280.00" y="461.63" width="1.00" height="14.91" fill-opacity="0.24"/>
<rect x="281.00" y="464.14" width="1.00" height="2.37" fill-opacity="0.50"/>
<rect x="283.00" y="466.10" width="1.00" height="1.64" fill-opacity="0.50"/>
<rect x="285.00" y="457.92" width="1.00" height="1.55" fill-opacity="0.50"/>
<rect x="288.00" y="458.83" width="1.00" height="22.07" fill-opacity="0.32"/>
<rect x="289.00" y="467.25" width="1.00" height="1.39" fill-opacity="0.50"/>
<rect x="291.00" y="466.83" width="1.00" height="1.68" fill-opacity="0.50"/>
<rect x="292.00" y="463.42" width="1.00" height="42.09" fill-opacity="0.49"/>
<rect x="293.00" y="459.96" width="1.00" height="15.52" fill-opacity="0.51"/>
<rect x="294.00" y="450.94" width="1.00" height="2.49" fill-opacity="0.50"/>
<rect x="296.00" y="456.72" width="1.00" height="43.09" fill-opacity="0.43"/>
<rect x="297.00" y="462.65" width="1.00" height="2.21" fill-opacity="0.50"/>
<rect x="298.00" y="464.17" width="1.00" height="2.41" fill-opacity="0.50"/>
<rect x="299.00" y="462.48" width="1.00" height="8.68" fill-opacity="0.34"/>
<rect x="300.00" y="467.09" width="1.00" height="11.48" fill-opacity="0.40"/>
<rect x="302.00" y="469.27" width="1.00" height="29.03" fill-opacity="0.36"/>
<rect x="303.00" y="468.19" width="1.00" height="2.07" fill-opacity="0.50"/>
<rect x="304.00" y="471.35" width="1.00" height="1.46" fill-opacity="0.50"/>
<rect x="305.00" y="473.74" width="1.00" height="2.57" fill-opacity="0.50"/>
<rect x="306.00" y="469.86" width="1.00" height="26.49" fill-opacity="0.38"/>
<rect x="307.00" y="470.68" width="1.00" height="2.71" fill-opacity="0.50"/>
<rect x="308.00" y="467.74" width="1.00" height="32.12" fill-opacity="0.46"/>
<rect x="309.00" y="466.68" width="1.00" height="0.91" fill-opacity="0.50"/>
<rect x="310.00" y="463.65" width="1.00" height="8.22" fill-opacity="0.38"/>
<rect x="311.00" y="459.28" width="1.00" height="20.63" fill-opacity="0.28"/>
<rect x="312.00" y="456.81" width="1.00" height="0.71" fill-opacity="0.50"/>
<rect x="313.00" y="454.48" width="1.00" height="2.90" fill-opacity="0.50"/>
<rect x="314.00" y="457.99" width="1.00" height="1.26" fill-opacity="0.50"/>
<rect x="315.00" y="458.80" width="1.00" height="22.93" fill-opacity="0.52"/>
<rect x="318.00" y="456.21" width="1.00" height="6.81" fill-opacity="0.51"/>
<rect x="319.00" y="461.21" width="1.00" height="1.07" fill-opacity="0.50"/>
<rect x="320.00" y="460.60" width="1.00" height="7.12" fill-opacity="0.31"/>
<rect x="321.00" y="460.32" width="1.00" height="2.93" fill-opacity="0.50"/>
<rect x="322.00" y="459.81" width="1.00" height="16.90" fill-opacity="0.51"/>
<rect x="323.00" y="457.54" width="1.00" height="1.06" fill-opacity="0.50"/>
<rect x="324.00" y="459.47" width="1.00" height="41.03" fill-opacity="0.27"/>
<rect x="325.00" y="460.93" width="1.00" height="7.76" fill-opacity="0.24"/>
<rect x="326.00" y="461.91" width="1.00" height="2.70" fill-opacity="0.50"/>
<rect x="328.00" y="464.37" width="1.00" height="1.34" fill-opacity="0.50"/>
<rect x="329.00" y="461.72" width="1.00" height="14.73" fill-opacity="0.27"/>
<rect x="330.00" y="463.89" width="1.00" height="27.01" fill-opacity="0.33"/>
<rect x="331.00" y="468.51" width="1.00" height="1.77" fill-opacity="0.50"/>
<rect x="332.00" y="466.73" width="1.00" height="30.73" fill-opacity="0.30"/>
<rect x="333.00" y="470.85" width="1.00" height="23.31" fill-opacity="0.38"/>
<rect x="334.00" y="469.17" width="1.00" height="12.83" fill-opacity="0.29"/>
<rect x="335.00" y="467.99" width="1.00" height="14.62" fill-opacity="0.29"/>
<rect x="338.00" y="456.32" width="1.00" height="1.15" fill-opacity="0.50"/>
<rect x="340.00" y="457.53" width="1.00" height="1.08" fill-opacity="0.50"/>
<rect x="341.00" y="461.88" width="1.00" height="1.55" fill-opacity="0.50"/>
<rect x="342.00" y="464.45" width="1.00" height="2.05" fill-opacity="0.50"/>
<rect x="344.00" y="473.64" width="1.00" height="11.72" fill-opacity="0.35"/>
<rect x="345.00" y="472.91" width="1.00" height="2.37" fill-opacity="0.50"/>
<rect x="346.00" y="464.15" width="1.00" height="0.66" fill-opacity="0.50"/>
<rect x="348.00" y="457.68" width="1.00" height="1.72" fill-opacity="0.50"/>
<rect x="349.00" y="456.61" width="1.00" height="6.11" fill-opacity="0.37"/>
<rect x="350.00" y="450.54" width="1.00" height="0.79" fill-opacity="0.50"/>
<rect x="351.00" y="452.09" width="1.00" height="26.65" fill-opacity="0.39"/>
<rect x="352.00" y="453.04" width="1.00" height="7.82" fill-opacity="0.21"/>
<rect x="353.00" y="450.70" width="1.00" height="1.58" fill-opacity="0.50"/>
<rect x="355.00" y="463.14" width="1.00" height="7.63" fill-opacity="0.44"/>
<rect x="357.00" y="471.47" width="1.00" height="14.40" fill-opacity="0.21"/>
<rect x="358.00" y="477.63" width="1.00" height="2.96" fill-opacity="0.50"/>
<rect x="359.00" y="474.72" width="1.00" height="2.23" fill-opacity="0.50"/>
<rect x="360.00" y="467.41" width="1.00" height="11.04" fill-opacity="0.34"/>
<rect x="362.00" y="454.21" width="1.00" height="2.29" fill-opacity="0.50"/>
<rect x="363.00" y="458.23" width="1.00" height="11.59" fill-opacity="0.28"/>
<rect x="364.00" y="457.89" width="1.00" height="1.09" fill-opacity="0.50"/>
<rect x="365.00" y="458.58" width="1.00" height="1.83" fill-opacity="0.50"/>
<rect x="366.00" y="455.94" width="1.00" height="7.52" fill-opacity="0.32"/>
<rect x="367.00" y="457.86" width="1.00" height="1.77" fill-opacity="0.50"/>
<rect x="368.00" y="456.54" width="1.00" height="1.18" fill-opacity="0.50"/>
<rect x="369.00" y="455.65" width="1.00" height="12.73" fill-opacity="0.32"/>
<rect x="371.00" y="452.43" width="1.00" height="11.77" fill-opacity="0.36"/>
<rect x="372.00" y="455.95" width="1.00" height="2.59" fill-opacity="0.50"/>
<rect x="373.00" y="448.43" width="1.00" height="8.01" fill-opacity="0.33"/>
<rect x="374.00" y="455.72" width="1.00" height="7.91" fill-opacity="0.34"/>
<rect x="375.00" y="467.06" width="1.00" height="0.81" fill-opacity="0.50"/>
<rect x="376.00" y="465.89" width="1.00" height="19.48" fill-opacity="0.47"/>
<rect x="378.00" y="463.06" width="1.00" height="8.94" fill-opacity="0.31"/>
<rect x="380.00" y="461.01" width="1.00" height="6.25" fill-opacity="0.41"/>
<rect x="381.00" y="459.43" width="1.00" height="1.27" fill-opacity="0.50"/>
<rect x="382.00" y="464.54" width="1.00" height="13.36" fill-opacity="0.45"/>
<rect x="383.00" y="466.91" width="1.00" height="8.30" fill-opacity="0.45"/>
<rect x="384.00" y="465.84" width="1.00" height="2.60" fill-opacity="0.50"/>
<rect x="385.00" y="464.58" width="1.00" height="8.98" fill-opacity="0.21"/>
<rect x="386.00" y="463.17" width="1.00" height="1.70" fill-opacity="0.50"/>
<rect x="387.00" y="468.66" width="1.00" height="0.89" fill-opacity="0.50"/>
<rect x="388.00" y="467.69" width="1.00" height="0.65" fill-opacity="0.50"/>
<rect x="389.00" y="468.32" width="1.00" height="2.87" fill-opacity="0.50"/>
<rect x="390.00" y="470.58" width="1.00" height="8.27" fill-opacity="0.35"/>
<rect x="391.00" y="468.25" width="1.00" height="11.03" fill-opacity="0.37"/>
<rect x="392.00" y="468.46" width="1.00" height="13.65" fill-opacity="0.26"/>
<rect x="393.00" y="472.16" width="1.00" height="7.27" fill-opacity="0.35"/>
<rect x="394.00" y="469.56" width="1.00" height="2.10" fill-opacity="0.50"/>
<rect x="396.00" y="474.74" width="1.00" height="7.02" fill-opacity="0.22"/>
<rect x="397.00" y="477.47" width="1.00" height="1.41" fill-opacity="0.50"/>
<rect x="398.00" y="479.03" width="1.00" height="6.33" fill-opacity="0.51"/>
<rect x="399.00" y="484.21" width="1.00" height="2.00" fill-opacity="0.50"/>
<rect x="400.00" y="482.55" width="1.00" height="1.85" fill-opacity="0.50"/>
<rect x="401.00" y="486.43" width="1.00" height="27.72" fill-opacity="0.47"/>
<rect x="402.00" y="482.09" width="1.00" height="1.23" fill-opacity="0.50"/>
<rect x="403.00" y="478.01" width="1.00" height="35.19" fill-opacity="0.33"/>
<rect x="404.00" y="478.87" width="1.00" height="8.76" fill-opacity="0.31"/>
<rect x="406.00" y="468.65" width="1.00" height="12.38" fill-opacity="0.20"/>
<rect x="407.00" y="469.31" width="1.00" height="0.72" fill-opacity="0.50"/>
<rect x="408.00" y="467.96" width="1.00" height="1.64" fill-opacity="0.50"/>
<rect x="409.00" y="467.87" width="1.00" height="2.49" fill-opacity="0.50"/>
<rect x="410.00" y="469.58" width="1.00" height="18.29" fill-opacity="0.31"/>
<rect x="411.00" y="467.41" width="1.00" height="2.06" fill-opacity="0.50"/>
<rect x="413.00" y="465.95" width="1.00" height="1.69" fill-opacity="0.50"/>
<rect x="414.00" y="463.79" width="1.00" height="22.00" fill-opacity="0.28"/>
<rect x="416.00" y="464.00" width="1.00" height="6.17" fill-opacity="0.24"/>
<rect x="417.00" y="464.93" width="1.00" height="19.95" fill-opacity="0.37"/>
<rect x="418.00" y="460.74" width="1.00" height="2.61" fill-opacity="0.50"/>
<rect x="419.00" y="459.57" width="1.00" height="22.17" fill-opacity="0.34"/>
<rect x="420.00" y="463.91" width="1.00" height="2.15" fill-opacity="0.50"/>
<rect x="421.00" y="460.99" width="1.00" height="31.59" fill-opacity="0.49"/>
<rect x="422.00" y="462.47" width="1.00" height="2.12" fill-opacity="0.50"/>
<rect x="423.00" y="462.66" width="1.00" height="2.40" fill-opacity="0.50"/>
<rect x="424.00" y="458.98" width="1.00" height="12.19" fill-opacity="0.26"/>
<rect x="425.00" y="458.00" width="1.00" height="2.82" fill-opacity="0.50"/>
<rect x="426.00" y="464.49" width="1.00" height="17.53" fill-opacity="0.42"/>
<rect x="427.00" y="460.28" width="1.00" height="2.97" fill-opacity="0.50"/>
<rect x="429.00" y="457.40" width="1.00" height="35.06" fill-opacity="0.24"/>
<rect x="430.00" y="459.46" width="1.00" height="16.48" fill-opacity="0.33"/>
<rect x="431.00" y="459.61" width="1.00" height="2.52" fill-opacity="0.50"/>
<rect x="432.00" y="459.74" width="1.00" height="24.91" fill-opacity="0.54"/>
<rect x="433.00" y="460.78" width="1.00" height="1.64" fill-opacity="0.50"/>
<rect x="434.00" y="463.95" width="1.00" height="6.75" fill-opacity="0.53"/>
<rect x="436.00" y="461.22" width="1.00" height="9.25" fill-opacity="0.42"/>
<rect x="437.00" y="461.17" width="1.00" height="13.06" fill-opacity="0.29"/>
<rect x="438.00" y="459.91" width="1.00" height="17.05" fill-opacity="0.23"/>
<rect x="439.00" y="461.13" width="1.00" height="2.99" fill-opacity="0.50"/>
<rect x="440.00" y="461.52" width="1.00" height="1.45" fill-opacity="0.50"/>
<rect x="441.00" y="463.20" width="1.00" height="1.19" fill-opacity="0.50"/>
<rect x="442.00" y="460.90" width="1.00" height="1.97" fill-opacity="0.50"/>
<rect x="443.00" y="465.06" width="1.00" height="38.47" fill-opacity="0.55"/>
<rect x="444.00" y="464.00" width="1.00" height="2.17" fill-opacity="0.50"/>
<rect x="445.00" y="462.33" width="1.00" height="6.80" fill-opacity="0.23"/>
<rect x="446.00" y="463.81" width="1.00" height="0.93" fill-opacity="0.50"/>
<rect x="447.00" y="465.10" width="1.00" height="14.06" fill-opacity="0.20"/>
<rect x="448.00" y="465.39" width="1.00" height="2.38" fill-opacity="0.50"/>
<rect x="449.00" y="467.05" width="1.00" height="32.59" fill-opacity="0.47"/>
<rect x="450.00" y="468.75" width="1.00" height="21.29" fill-opacity="0.45"/>
<rect x="452.00" y="465.29" width="1.00" height="11.74" fill-opacity="0.43"/>
<rect x="453.00" y="466.63" width="1.00" height="1.91" fill-opacity="0.50"/>
<rect x="454.00" y="463.13" width="1.00" height="17.64" fill-opacity="0.23"/>
<rect x="455.00" y="462.69" width="1.00" height="0.63" fill-opacity="0.50"/>
<rect x="456.00" y="465.25" width="1.00" height="2.04" fill-opacity="0.50"/>
<rect x="457.00" y="460.99" width="1.00" height="8.00" fill-opacity="0.35"/>
<rect x="458.00" y="459.52" width="1.00" height="1.21" fill-opacity="0.50"/>
<rect x="459.00" y="461.40" width="1.00" height="2.86" fill-opacity="0.50"/>
<rect x="460.00" y="460.33" width="1.00" height="0.96" fill-opacity="0.50"/>
<rect x="461.00" y="463.98" width="1.00" height="22.99" fill-opacity="0.54"/>
<rect x="462.00" y="460.04" width="1.00" height="2.12" fill-opacity="0.50"/>
<rect x="463.00" y="459.54" width="1.00" height="31.67" fill-opacity="0.31"/>
<rect x="464.00" y="459.38" width="1.00" height="2.97" fill-opacity="0.50"/>
<rect x="465.00" y="458.94" width="1.00" height="1.13" fill-opacity="0.50"/>
<rect x="466.00" y="462.21" width="1.00" height="27.88" fill-opacity="0.50"/>
<rect x="467.00" y="461.90" width="1.00" height="1.70" fill-opacity="0.50"/>
<rect x="468.00" y="458.10" width="1.00" height="2.07" fill-opacity="0.50"/>
<rect x="469.00" y="460.27" width="1.00" height="1.26" fill-opacity="0.50"/>
<rect x="470.00" y="459.79" width="1.00" height="19.76" fill-opacity="0.38"/>
<rect x="471.00" y="457.53" width="1.00" height="1.34" fill-opacity="0.50"/>
<rect x="472.00" y="461.65" width="1.00" height="2.79" fill-opacity="0.50"/>
<rect x="473.00" y="458.76" width="1.00" height="2.98" fill-opacity="0.50"/>
<rect x="474.00" y="463.07" width="1.00" height="35.16" fill-opacity="0.34"/>
<rect x="475.00" y="464.17" width="1.00" height="25.45" fill-opacity="0.28"/>
<rect x="476.00" y="464.18" width="1.00" height="2.81" fill-opacity="0.50"/>
<rect x="477.00" y="464.30" width="1.00" height="1.53" fill-opacity="0.50"/>
<rect x="478.00" y="465.66" width="1.00" height="30.77" fill-opacity="0.29"/>
<rect x="479.00" y="464.55" width="1.00" height="1.61" fill-opacity="0.50"/>
<rect x="480.00" y="464.96" width="1.00" height="13.20" fill-opacity="0.23"/>
<rect x="481.00" y="462.58" width="1.00" height="1.47" fill-opacity="0.50"/>
<rect x="482.00" y="460.19" width="1.00" height="2.57" fill-opacity="0.50"/>
<rect x="483.00" y="463.70" width="1.00" height="2.72" fill-opacity="0.50"/>
<rect x="484.00" y="463.68" width="1.00" height="7.47" fill-opacity="0.21"/>
<rect x="485.00" y="460.32" width="1.00" height="2.50" fill-opacity="0.50"/>
<rect x="486.00" y="458.52" width="1.00" height="19.20" fill-opacity="0.42"/>
<rect x="487.00" y="463.81" width="1.00" height="14.17" fill-opacity="0.42"/>
<rect x="489.00" y="461.78" width="1.00" height="6.21" fill-opacity="0.31"/>
<rect x="490.00" y="461.51" width="1.00" height="1.81" fill-opacity="0.50"/>
<rect x="491.00" y="462.16" width="1.00" height="9.55" fill-opacity="0.36"/>
<rect x="492.00" y="458.40" width="1.00" height="28.96" fill-opacity="0.33"/>
<rect x="493.00" y="459.07" width="1.00" height="2.07" fill-opacity="0.50"/>
<rect x="494.00" y="463.05" width="1.00" height="11.07" fill-opacity="0.25"/>
<rect x="495.00" y="462.52" width="1.00" height="2.46" fill-opacity="0.50"/>
<rect x="496.00" y="461.16" width="1.00" height="1.52" fill-opacity="0.50"/>
<rect x="497.00" y="465.09" width="1.00" height="12.62" fill-opacity="0.40"/>
<rect x="498.00" y="460.69" width="1.00" height="0.86" fill-opacity="0.50"/>
<rect x="499.00" y="464.88" width="1.00" height="1.36" fill-opacity="0.50"/>
<rect x="500.00" y="465.44" width="1.00" height="23.88" fill-opacity="0.36"/>
<rect x="501.00" y="459.15" width="1.00" height="0.84" fill-opacity="0.50"/>
<rect x="502.00" y="461.59" width="1.00" height="0.88" fill-opacity="0.50"/>
<rect x="503.00" y="463.16" width="1.00" height="0.73" fill-opacity="0.50"/>
<rect x="504.00" y="460.98" width="1.00" height="15.01" fill-opacity="0.35"/>
<rect x="505.00" y="460.29" width="1.00" height="2.55" fill-opacity="0.50"/>
<rect x="507.00" y="463.78" width="1.00" height="11.45" fill-opacity="0.45"/>
<rect x="508.00" y="461.98" width="1.00" height="2.69" fill-opacity="0.50"/>
<rect x="509.00" y="463.75" width="1.00" height="17.88" fill-opacity="0.33"/>
<rect x="510.00" y="460.08" width="1.00" height="2.01" fill-opacity="0.50"/>
<rect x="511.00" y="460.71" width="1.00" height="2.93" fill-opacity="0.50"/>
<rect x="512.00" y="463.07" width="1.00" height="27.54" fill-opacity="0.45"/>
<rect x="513.00" y="462.76" width="1.00" height="13.42" fill-opacity="0.43"/>
<rect x="514.00" y="456.95" width="1.00" height="0.63" fill-opacity="0.50"/>
<rect x="515.00" y="457.66" width="1.00" height="17.71" fill-opacity="0.23"/>
<rect x="516.00" y="453.09" width="1.00" height="1.87" fill-opacity="0.50"/>
<rect x="517.00" y="456.69" width="1.00" height="29.72" fill-opacity="0.47"/>
<rect x="519.00" y="463.52" width="1.00" height="2.69" fill-opacity="0.50"/>
<rect x="520.00" y="459.67" width="1.00" height="17.44" fill-opacity="0.24"/>
<rect x="521.00" y="466.02" width="1.00" height="1.52" fill-opacity="0.50"/>
<rect x="523.00" y="460.82" width="1.00" height="0.88" fill-opacity="0.50"/>
<rect x="524.00" y="462.04" width="1.00" height="6.90" fill-opacity="0.28"/>
<rect x="525.00" y="456.16" width="1.00" height="1.38" fill-opacity="0.50"/>
<rect x="526.00" y="464.56" width="1.00" height="11.27" fill-opacity="0.54"/>
<rect x="527.00" y="467.87" width="1.00" height="1.84" fill-opacity="0.50"/>
<rect x="528.00" y="471.05" width="1.00" height="1.24" fill-opacity="0.50"/>
<rect x="529.00" y="461.07" width="1.00" height="30.04" fill-opacity="0.45"/>
<rect x="531.00" y="464.27" width="1.00" height="30.85" fill-opacity="0.50"/>
<rect x="533.00" y="469.08" width="1.00" height="18.08" fill-opacity="0.37"/>
</g>
<polygon points="45.30,473.14 45.60,476.70 45.90,480.00 46.30,485.00 46.70,485.00 47.10,480.00 47.40,476.70 47.70,473.14" fill="#fff" fill-opacity="0.92"/>
<polygon points="61.10,518.80 61.40,526.66 61.70,540.00 62.10,545.00 62.50,545.00 62.90,540.00 63.20,526.66 63.50,518.80" fill="#fff" fill-opacity="0.92"/>
<polygon points="70.60,465.20 71.50,475.34 71.80,494.00 72.20,499.00 72.60,499.00 73.00,494.00 73.30,475.34 74.20,465.20" fill="#fff" fill-opacity="0.92"/>
<polygon points="72.40,460.00 74.10,481.90 74.40,528.00 74.80,533.00 75.20,533.00 75.60,528.00 75.90,481.90 77.60,460.00" fill="#fff" fill-opacity="0.92"/>
<polygon points="95.30,466.00 95.60,470.20 95.90,475.00 96.30,480.00 96.70,480.00 97.10,475.00 97.40,470.20 97.70,466.00" fill="#fff" fill-opacity="0.92"/>
<polygon points="112.60,472.00 112.90,477.40 113.20,485.00 113.60,490.00 114.00,490.00 114.40,485.00 114.70,477.40 115.00,472.00" fill="#fff" fill-opacity="0.92"/>
<polygon points="130.80,471.73 131.10,479.31 131.40,492.00 131.80,497.00 132.20,497.00 132.60,492.00 132.90,479.31 133.20,471.73" fill="#fff" fill-opacity="0.92"/>
<polygon points="149.70,489.40 151.40,519.40 151.70,594.50 152.10,599.50 152.50,599.50 152.90,594.50 153.20,519.40 154.90,489.40" fill="#fff" fill-opacity="0.92"/>
<polygon points="166.60,467.93 166.90,472.45 167.20,478.00 167.60,483.00 168.00,483.00 168.40,478.00 168.70,472.45 169.00,467.93" fill="#fff" fill-opacity="0.92"/>
<polygon points="176.60,470.60 178.30,495.02 178.60,547.00 179.00,552.00 179.40,552.00 179.80,547.00 180.10,495.02 181.80,470.60" fill="#fff" fill-opacity="0.92"/>
<polygon points="182.00,492.53 183.70,522.53 184.00,626.80 184.40,631.80 184.80,631.80 185.20,626.80 185.50,522.53 187.20,492.53" fill="#fff" fill-opacity="0.92"/>
<polygon points="199.00,475.00 200.70,502.00 201.00,560.00 201.40,565.00 201.80,565.00 202.20,560.00 202.50,502.00 204.20,475.00" fill="#fff" fill-opacity="0.92"/>
<polygon points="213.10,465.04 214.80,495.04 215.10,564.00 215.50,569.00 215.90,569.00 216.30,564.00 216.60,495.04 218.30,465.04" fill="#fff" fill-opacity="0.92"/>
<polygon points="221.50,465.26 222.40,475.38 222.70,494.00 223.10,499.00 223.50,499.00 223.90,494.00 224.20,475.38 225.10,465.26" fill="#fff" fill-opacity="0.92"/>
<polygon points="242.20,463.64 243.10,479.95 243.40,513.00 243.80,518.00 244.20,518.00 244.60,513.00 244.90,479.95 245.80,463.64" fill="#fff" fill-opacity="0.92"/>
<polygon points="251.60,468.51 251.90,477.06 252.20,492.00 252.60,497.00 253.00,497.00 253.40,492.00 253.70,477.06 254.00,468.51" fill="#fff" fill-opacity="0.92"/>
<polygon points="255.50,465.24 257.20,490.97 257.50,546.00 257.90,551.00 258.30,551.00 258.70,546.00 259.00,490.97 260.70,465.24" fill="#fff" fill-opacity="0.92"/>
<polygon points="265.70,470.50 266.60,480.55 266.90,499.00 267.30,504.00 267.70,504.00 268.10,499.00 268.40,480.55 269.30,470.50" fill="#fff" fill-opacity="0.92"/>
<polygon points="277.00,468.20 277.90,483.74 278.20,515.00 278.60,520.00 279.00,520.00 279.40,515.00 279.70,483.74 280.60,468.20" fill="#fff" fill-opacity="0.92"/>
<polygon points="301.30,469.57 301.60,476.90 301.90,489.00 302.30,494.00 302.70,494.00 303.10,489.00 303.40,476.90 303.70,469.57" fill="#fff" fill-opacity="0.92"/>
<polygon points="307.40,466.00 309.10,486.10 309.40,528.00 309.80,533.00 310.20,533.00 310.60,528.00 310.90,486.10 312.60,466.00" fill="#fff" fill-opacity="0.92"/>
<polygon points="335.20,462.73 336.10,473.01 336.40,492.00 336.80,497.00 337.20,497.00 337.60,492.00 337.90,473.01 338.80,462.73" fill="#fff" fill-opacity="0.92"/>
<polygon points="340.20,464.09 341.10,475.46 341.40,497.00 341.80,502.00 342.20,502.00 342.60,497.00 342.90,475.46 343.80,464.09" fill="#fff" fill-opacity="0.92"/>
<polygon points="354.40,470.80 356.10,490.66 356.40,532.00 356.80,537.00 357.20,537.00 357.60,532.00 357.90,490.66 359.60,470.80" fill="#fff" fill-opacity="0.92"/>
<polygon points="376.60,466.70 376.90,470.99 377.20,476.00 377.60,481.00 378.00,481.00 378.40,476.00 378.70,470.99 379.00,466.70" fill="#fff" fill-opacity="0.92"/>
<polygon points="385.30,468.00 385.60,475.20 385.90,487.00 386.30,492.00 386.70,492.00 387.10,487.00 387.40,475.20 387.70,468.00" fill="#fff" fill-opacity="0.92"/>
<polygon points="390.00,471.60 391.70,501.12 392.00,565.00 392.40,570.00 392.80,570.00 393.20,565.00 393.50,501.12 395.20,471.60" fill="#fff" fill-opacity="0.92"/>
<polygon points="403.40,477.24 403.70,484.07 404.00,495.00 404.40,500.00 404.80,500.00 405.20,495.00 405.50,484.07 405.80,477.24" fill="#fff" fill-opacity="0.92"/>
<polygon points="439.80,465.20 440.10,473.24 440.40,487.00 440.80,492.00 441.20,492.00 441.60,487.00 441.90,473.24 442.20,465.20" fill="#fff" fill-opacity="0.92"/>
<polygon points="444.20,466.20 445.10,477.84 445.40,500.00 445.80,505.00 446.20,505.00 446.60,500.00 446.90,477.84 447.80,466.20" fill="#fff" fill-opacity="0.92"/>
<polygon points="449.90,466.49 450.80,477.74 451.10,499.00 451.50,504.00 451.90,504.00 452.30,499.00 452.60,477.74 453.50,466.49" fill="#fff" fill-opacity="0.92"/>
<polygon points="456.60,464.66 456.90,472.26 457.20,485.00 457.60,490.00 458.00,490.00 458.40,485.00 458.70,472.26 459.00,464.66" fill="#fff" fill-opacity="0.92"/>
<polygon points="484.60,462.56 486.30,486.99 486.60,539.00 487.00,544.00 487.40,544.00 487.80,539.00 488.10,486.99 489.80,462.56" fill="#fff" fill-opacity="0.92"/>
<polygon points="501.00,463.44 501.90,475.01 502.20,497.00 502.60,502.00 503.00,502.00 503.40,497.00 503.70,475.01 504.60,463.44" fill="#fff" fill-opacity="0.92"/>
<polygon points="505.80,462.60 506.10,471.42 506.40,487.00 506.80,492.00 507.20,492.00 507.60,487.00 507.90,471.42 508.20,462.60" fill="#fff" fill-opacity="0.92"/>
<line x1="32.2" y1="445" x2="32.2" y2="673.2" stroke="#cfcfcf" stroke-width="0.5"/>
<line x1="31.8" y1="673.2" x2="536.6" y2="673.2" stroke="#222" stroke-width="0.9"/>
<line x1="29.4" y1="672.90" x2="32.0" y2="672.90" stroke="#333" stroke-width="0.7"/>
<text x="28.20" y="675.80" font-family="Liberation Sans" font-size="6.6" font-weight="normal" text-anchor="end" fill="#000" textLength="3.94" lengthAdjust="spacingAndGlyphs" stroke="#000" stroke-width="0.22">0</text>
<line x1="29.4" y1="649.84" x2="32.0" y2="649.84" stroke="#333" stroke-width="0.7"/>
<text x="28.20" y="652.74" font-family="Liberation Sans" font-size="6.6" font-weight="normal" text-anchor="end" fill="#000" textLength="11.83" lengthAdjust="spacingAndGlyphs" stroke="#000" stroke-width="0.22">450</text>
<line x1="29.4" y1="626.78" x2="32.0" y2="626.78" stroke="#333" stroke-width="0.7"/>
<text x="28.20" y="629.68" font-family="Liberation Sans" font-size="6.6" font-weight="normal" text-anchor="end" fill="#000" textLength="11.83" lengthAdjust="spacingAndGlyphs" stroke="#000" stroke-width="0.22">900</text>
<line x1="29.4" y1="603.73" x2="32.0" y2="603.73" stroke="#333" stroke-width="0.7"/>
<text x="28.20" y="606.63" font-family="Liberation Sans" font-size="6.6" font-weight="normal" text-anchor="end" fill="#000" textLength="15.78" lengthAdjust="spacingAndGlyphs" stroke="#000" stroke-width="0.22">1350</text>
<line x1="29.4" y1="580.67" x2="32.0" y2="580.67" stroke="#333" stroke-width="0.7"/>
<text x="28.20" y="583.57" font-family="Liberation Sans" font-size="6.6" font-weight="normal" text-anchor="end" fill="#000" textLength="15.78" lengthAdjust="spacingAndGlyphs" stroke="#000" stroke-width="0.22">1800</text>
<line x1="29.4" y1="557.61" x2="32.0" y2="557.61" stroke="#333" stroke-width="0.7"/>
<text x="28.20" y="560.51" font-family="Liberation Sans" font-size="6.6" font-weight="normal" text-anchor="end" fill="#000" textLength="15.78" lengthAdjust="spacingAndGlyphs" stroke="#000" stroke-width="0.22">2250</text>
<line x1="29.4" y1="534.55" x2="32.0" y2="534.55" stroke="#333" stroke-width="0.7"/>
<text x="28.20" y="537.45" font-family="Liberation Sans" font-size="6.6" font-weight="normal" text-anchor="end" fill="#000" textLength="15.78" lengthAdjust="spacingAndGlyphs" stroke="#000" stroke-width="0.22">2700</text>
<line x1="29.4" y1="511.49" x2="32.0" y2="511.49" stroke="#333" stroke-width="0.7"/>
<text x="28.20" y="514.39" font-family="Liberation Sans" font-size="6.6" font-weight="normal" text-anchor="end" fill="#000" textLength="15.78" lengthAdjust="spacingAndGlyphs" stroke="#000" stroke-width="0.22">3150</text>
<line x1="29.4" y1="488.44" x2="32.0" y2="488.44" stroke="#333" stroke-width="0.7"/>
<text x="28.20" y="491.34" font-family="Liberation Sans" font-size="6.6" font-weight="normal" text-anchor="end" fill="#000" textLength="15.78" lengthAdjust="spacingAndGlyphs" stroke="#000" stroke-width="0.22">3600</text>
<line x1="29.4" y1="465.38" x2="32.0" y2="465.38" stroke="#333" stroke-width="0.7"/>
<text x="28.20" y="468.28" font-family="Liberation Sans" font-size="6.6" font-weight="normal" text-anchor="end" fill="#000" textLength="15.78" lengthAdjust="spacingAndGlyphs" stroke="#000" stroke-width="0.22">4050</text>
<line x1="29.4" y1="442.32" x2="32.0" y2="442.32" stroke="#333" stroke-width="0.7"/>
<text x="28.20" y="445.22" font-family="Liberation Sans" font-size="6.6" font-weight="normal" text-anchor="end" fill="#000" textLength="15.78" lengthAdjust="spacingAndGlyphs" stroke="#000" stroke-width="0.22">4500</text>
<line x1="32.30" y1="672.6" x2="32.30" y2="675.0" stroke="#222" stroke-width="0.7"/>
<text x="32.30" y="682.20" font-family="Liberation Sans" font-size="7.0" font-weight="normal" text-anchor="middle" fill="#000" textLength="3.47" lengthAdjust="spacingAndGlyphs" stroke="#000" stroke-width="0.22">0</text>
<line x1="82.75" y1="672.6" x2="82.75" y2="675.0" stroke="#222" stroke-width="0.7"/>
<text x="82.75" y="682.20" font-family="Liberation Sans" font-size="7.0" font-weight="normal" text-anchor="middle" fill="#000" textLength="19.07" lengthAdjust="spacingAndGlyphs" stroke="#000" stroke-width="0.22">16,400</text>
<line x1="133.19" y1="672.6" x2="133.19" y2="675.0" stroke="#222" stroke-width="0.7"/>
<text x="133.19" y="682.20" font-family="Liberation Sans" font-size="7.0" font-weight="normal" text-anchor="middle" fill="#000" textLength="19.07" lengthAdjust="spacingAndGlyphs" stroke="#000" stroke-width="0.22">32,800</text>
<line x1="183.64" y1="672.6" x2="183.64" y2="675.0" stroke="#222" stroke-width="0.7"/>
<text x="183.64" y="682.20" font-family="Liberation Sans" font-size="7.0" font-weight="normal" text-anchor="middle" fill="#000" textLength="19.07" lengthAdjust="spacingAndGlyphs" stroke="#000" stroke-width="0.22">49,200</text>
<line x1="234.09" y1="672.6" x2="234.09" y2="675.0" stroke="#222" stroke-width="0.7"/>
<text x="234.09" y="682.20" font-family="Liberation Sans" font-size="7.0" font-weight="normal" text-anchor="middle" fill="#000" textLength="19.07" lengthAdjust="spacingAndGlyphs" stroke="#000" stroke-width="0.22">65,600</text>
<line x1="284.53" y1="672.6" x2="284.53" y2="675.0" stroke="#222" stroke-width="0.7"/>
<text x="284.53" y="682.20" font-family="Liberation Sans" font-size="7.0" font-weight="normal" text-anchor="middle" fill="#000" textLength="19.07" lengthAdjust="spacingAndGlyphs" stroke="#000" stroke-width="0.22">82,000</text>
<line x1="334.98" y1="672.6" x2="334.98" y2="675.0" stroke="#222" stroke-width="0.7"/>
<text x="334.98" y="682.20" font-family="Liberation Sans" font-size="7.0" font-weight="normal" text-anchor="middle" fill="#000" textLength="19.07" lengthAdjust="spacingAndGlyphs" stroke="#000" stroke-width="0.22">98,400</text>
<line x1="385.42" y1="672.6" x2="385.42" y2="675.0" stroke="#222" stroke-width="0.7"/>
<text x="385.42" y="682.20" font-family="Liberation Sans" font-size="7.0" font-weight="normal" text-anchor="middle" fill="#000" textLength="22.54" lengthAdjust="spacingAndGlyphs" stroke="#000" stroke-width="0.22">114,800</text>
<line x1="435.87" y1="672.6" x2="435.87" y2="675.0" stroke="#222" stroke-width="0.7"/>
<text x="435.87" y="682.20" font-family="Liberation Sans" font-size="7.0" font-weight="normal" text-anchor="middle" fill="#000" textLength="22.54" lengthAdjust="spacingAndGlyphs" stroke="#000" stroke-width="0.22">131,200</text>
<line x1="486.32" y1="672.6" x2="486.32" y2="675.0" stroke="#222" stroke-width="0.7"/>
<text x="486.32" y="682.20" font-family="Liberation Sans" font-size="7.0" font-weight="normal" text-anchor="middle" fill="#000" textLength="22.54" lengthAdjust="spacingAndGlyphs" stroke="#000" stroke-width="0.22">147,600</text>
<line x1="536.76" y1="672.6" x2="536.76" y2="675.0" stroke="#222" stroke-width="0.7"/>
<text x="536.76" y="682.20" font-family="Liberation Sans" font-size="7.0" font-weight="normal" text-anchor="middle" fill="#000" textLength="22.54" lengthAdjust="spacingAndGlyphs" stroke="#000" stroke-width="0.22">164,000</text>
<text x="284.80" y="691.90" font-family="Liberation Sans" font-size="8.4" font-weight="normal" text-anchor="middle" fill="#000" textLength="72.50" lengthAdjust="spacingAndGlyphs" >Genomic location</text>
<g transform="translate(9.8,558.2) rotate(-90)"><text x="0.00" y="0.00" font-family="Liberation Sans" font-size="8.3" font-weight="normal" text-anchor="middle" fill="#000" textLength="25.20" lengthAdjust="spacingAndGlyphs" >Depth</text></g>
<rect x="410.6" y="450.0" width="105" height="36.4" rx="2" ry="2" fill="#fff" fill-opacity="0.86" stroke="#9a9a9a" stroke-width="0.9"/>
<text x="511.80" y="458.60" font-family="Liberation Sans" font-size="7.3" font-weight="normal" text-anchor="end" fill="#000" textLength="65.77" lengthAdjust="spacingAndGlyphs" stroke="#000" stroke-width="0.15">Max depth: 4392.0</text>
<text x="511.80" y="466.35" font-family="Liberation Sans" font-size="7.3" font-weight="normal" text-anchor="end" fill="#000" textLength="59.30" lengthAdjust="spacingAndGlyphs" stroke="#000" stroke-width="0.15">Min depth: 655.0</text>
<text x="511.80" y="474.10" font-family="Liberation Sans" font-size="7.3" font-weight="normal" text-anchor="end" fill="#000" textLength="64.68" lengthAdjust="spacingAndGlyphs" stroke="#000" stroke-width="0.15">Avg depth: 3701.0</text>
<text x="511.80" y="481.85" font-family="Liberation Sans" font-size="7.3" font-weight="normal" text-anchor="end" fill="#000" textLength="98.19" lengthAdjust="spacingAndGlyphs" stroke="#000" stroke-width="0.15">Genome length: 163,019 bp</text>
</svg>
</body></html>
